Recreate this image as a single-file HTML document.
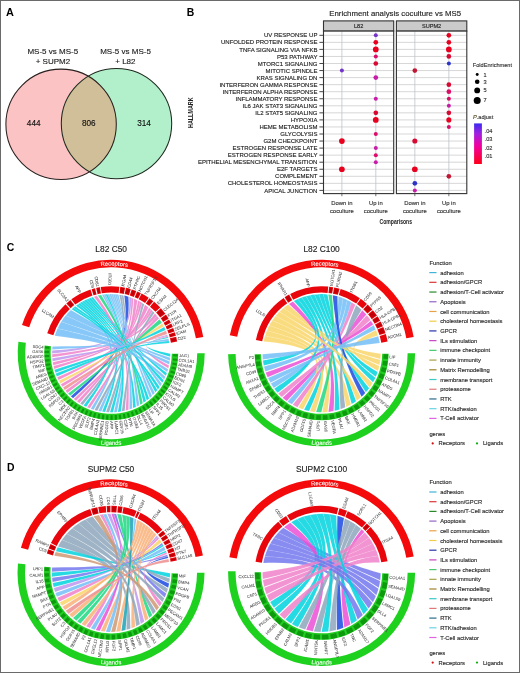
<!DOCTYPE html>
<html><head><meta charset="utf-8"><style>
html,body{margin:0;padding:0;background:#fff;}
#fig{position:relative;width:520px;height:673px;overflow:hidden;background:#fff;}
svg{position:absolute;left:0;top:0;font-family:"Liberation Sans", sans-serif;will-change:transform;}
#bd{position:absolute;left:0;top:0;width:520px;height:673px;box-sizing:border-box;border:1.3px solid #6a6a6a;pointer-events:none;}
</style></head><body><div id="fig">
<svg width="520" height="673" viewBox="0 0 520 673">
<text x="6.0" y="15.9" font-size="10.9" font-weight="bold" fill="#000">A</text>
<circle cx="61.1" cy="124.3" r="55.2" fill="#fbc3c3" />
<circle cx="116.5" cy="123.6" r="55.2" fill="#b2f0cb" />
<clipPath id="clipL"><circle cx="61.1" cy="124.3" r="55.2"/></clipPath>
<circle cx="116.5" cy="123.6" r="55.2" fill="#d1bf99" clip-path="url(#clipL)"/>
<circle cx="61.1" cy="124.3" r="55.2" fill="none" stroke="#2a2020" stroke-width="1.05"/>
<circle cx="116.5" cy="123.6" r="55.2" fill="none" stroke="#202a20" stroke-width="1.05"/>
<text x="52.8" y="54.2" font-size="8.0" text-anchor="middle" fill="#222" stroke="#222" stroke-width="0.14">MS-5 vs MS-5</text>
<text x="52.9" y="63.9" font-size="8.0" text-anchor="middle" fill="#222" stroke="#222" stroke-width="0.14">+ SUPM2</text>
<text x="125.5" y="54.2" font-size="8.0" text-anchor="middle" fill="#222" stroke="#222" stroke-width="0.14">MS-5 vs MS-5</text>
<text x="125.4" y="63.9" font-size="8.0" text-anchor="middle" fill="#222" stroke="#222" stroke-width="0.14">+ L82</text>
<text x="33.7" y="126.1" font-size="8.2" text-anchor="middle" fill="#111" stroke="#111" stroke-width="0.14">444</text>
<text x="88.8" y="126.1" font-size="8.2" text-anchor="middle" fill="#111" stroke="#111" stroke-width="0.14">806</text>
<text x="144.1" y="126.1" font-size="8.2" text-anchor="middle" fill="#111" stroke="#111" stroke-width="0.14">314</text>
<text x="186.7" y="15.6" font-size="10.4" font-weight="bold" fill="#000">B</text>
<text x="395.2" y="15.6" font-size="7.8" text-anchor="middle" fill="#222" stroke="#222" stroke-width="0.14">Enrichment analysis coculture vs MS5</text>
<rect x="323.5" y="20.9" width="70.19999999999999" height="10.2" fill="#cacaca" stroke="#333" stroke-width="1.1"/>
<text x="358.6" y="28.0" font-size="5.6" text-anchor="middle" fill="#222" stroke="#222" stroke-width="0.14">L82</text>
<rect x="323.5" y="31.1" width="70.19999999999999" height="162.5" fill="#fff"/>
<line x1="323.5" y1="35.30" x2="393.7" y2="35.30" stroke="#cdcdcd" stroke-width="0.8"/>
<line x1="323.5" y1="42.35" x2="393.7" y2="42.35" stroke="#cdcdcd" stroke-width="0.8"/>
<line x1="323.5" y1="49.40" x2="393.7" y2="49.40" stroke="#cdcdcd" stroke-width="0.8"/>
<line x1="323.5" y1="56.45" x2="393.7" y2="56.45" stroke="#cdcdcd" stroke-width="0.8"/>
<line x1="323.5" y1="63.50" x2="393.7" y2="63.50" stroke="#cdcdcd" stroke-width="0.8"/>
<line x1="323.5" y1="70.55" x2="393.7" y2="70.55" stroke="#cdcdcd" stroke-width="0.8"/>
<line x1="323.5" y1="77.60" x2="393.7" y2="77.60" stroke="#cdcdcd" stroke-width="0.8"/>
<line x1="323.5" y1="84.65" x2="393.7" y2="84.65" stroke="#cdcdcd" stroke-width="0.8"/>
<line x1="323.5" y1="91.70" x2="393.7" y2="91.70" stroke="#cdcdcd" stroke-width="0.8"/>
<line x1="323.5" y1="98.75" x2="393.7" y2="98.75" stroke="#cdcdcd" stroke-width="0.8"/>
<line x1="323.5" y1="105.80" x2="393.7" y2="105.80" stroke="#cdcdcd" stroke-width="0.8"/>
<line x1="323.5" y1="112.85" x2="393.7" y2="112.85" stroke="#cdcdcd" stroke-width="0.8"/>
<line x1="323.5" y1="119.90" x2="393.7" y2="119.90" stroke="#cdcdcd" stroke-width="0.8"/>
<line x1="323.5" y1="126.95" x2="393.7" y2="126.95" stroke="#cdcdcd" stroke-width="0.8"/>
<line x1="323.5" y1="134.00" x2="393.7" y2="134.00" stroke="#cdcdcd" stroke-width="0.8"/>
<line x1="323.5" y1="141.05" x2="393.7" y2="141.05" stroke="#cdcdcd" stroke-width="0.8"/>
<line x1="323.5" y1="148.10" x2="393.7" y2="148.10" stroke="#cdcdcd" stroke-width="0.8"/>
<line x1="323.5" y1="155.15" x2="393.7" y2="155.15" stroke="#cdcdcd" stroke-width="0.8"/>
<line x1="323.5" y1="162.20" x2="393.7" y2="162.20" stroke="#cdcdcd" stroke-width="0.8"/>
<line x1="323.5" y1="169.25" x2="393.7" y2="169.25" stroke="#cdcdcd" stroke-width="0.8"/>
<line x1="323.5" y1="176.30" x2="393.7" y2="176.30" stroke="#cdcdcd" stroke-width="0.8"/>
<line x1="323.5" y1="183.35" x2="393.7" y2="183.35" stroke="#cdcdcd" stroke-width="0.8"/>
<line x1="323.5" y1="190.40" x2="393.7" y2="190.40" stroke="#cdcdcd" stroke-width="0.8"/>
<line x1="341.89" y1="31.1" x2="341.89" y2="193.6" stroke="#bfc3c8" stroke-width="0.8"/>
<line x1="375.80" y1="31.1" x2="375.80" y2="193.6" stroke="#bfc3c8" stroke-width="0.8"/>
<rect x="396.4" y="20.9" width="70.40000000000003" height="10.2" fill="#cacaca" stroke="#333" stroke-width="1.1"/>
<text x="431.6" y="28.0" font-size="5.6" text-anchor="middle" fill="#222" stroke="#222" stroke-width="0.14">SUPM2</text>
<rect x="396.4" y="31.1" width="70.40000000000003" height="162.5" fill="#fff"/>
<line x1="396.4" y1="35.30" x2="466.8" y2="35.30" stroke="#cdcdcd" stroke-width="0.8"/>
<line x1="396.4" y1="42.35" x2="466.8" y2="42.35" stroke="#cdcdcd" stroke-width="0.8"/>
<line x1="396.4" y1="49.40" x2="466.8" y2="49.40" stroke="#cdcdcd" stroke-width="0.8"/>
<line x1="396.4" y1="56.45" x2="466.8" y2="56.45" stroke="#cdcdcd" stroke-width="0.8"/>
<line x1="396.4" y1="63.50" x2="466.8" y2="63.50" stroke="#cdcdcd" stroke-width="0.8"/>
<line x1="396.4" y1="70.55" x2="466.8" y2="70.55" stroke="#cdcdcd" stroke-width="0.8"/>
<line x1="396.4" y1="77.60" x2="466.8" y2="77.60" stroke="#cdcdcd" stroke-width="0.8"/>
<line x1="396.4" y1="84.65" x2="466.8" y2="84.65" stroke="#cdcdcd" stroke-width="0.8"/>
<line x1="396.4" y1="91.70" x2="466.8" y2="91.70" stroke="#cdcdcd" stroke-width="0.8"/>
<line x1="396.4" y1="98.75" x2="466.8" y2="98.75" stroke="#cdcdcd" stroke-width="0.8"/>
<line x1="396.4" y1="105.80" x2="466.8" y2="105.80" stroke="#cdcdcd" stroke-width="0.8"/>
<line x1="396.4" y1="112.85" x2="466.8" y2="112.85" stroke="#cdcdcd" stroke-width="0.8"/>
<line x1="396.4" y1="119.90" x2="466.8" y2="119.90" stroke="#cdcdcd" stroke-width="0.8"/>
<line x1="396.4" y1="126.95" x2="466.8" y2="126.95" stroke="#cdcdcd" stroke-width="0.8"/>
<line x1="396.4" y1="134.00" x2="466.8" y2="134.00" stroke="#cdcdcd" stroke-width="0.8"/>
<line x1="396.4" y1="141.05" x2="466.8" y2="141.05" stroke="#cdcdcd" stroke-width="0.8"/>
<line x1="396.4" y1="148.10" x2="466.8" y2="148.10" stroke="#cdcdcd" stroke-width="0.8"/>
<line x1="396.4" y1="155.15" x2="466.8" y2="155.15" stroke="#cdcdcd" stroke-width="0.8"/>
<line x1="396.4" y1="162.20" x2="466.8" y2="162.20" stroke="#cdcdcd" stroke-width="0.8"/>
<line x1="396.4" y1="169.25" x2="466.8" y2="169.25" stroke="#cdcdcd" stroke-width="0.8"/>
<line x1="396.4" y1="176.30" x2="466.8" y2="176.30" stroke="#cdcdcd" stroke-width="0.8"/>
<line x1="396.4" y1="183.35" x2="466.8" y2="183.35" stroke="#cdcdcd" stroke-width="0.8"/>
<line x1="396.4" y1="190.40" x2="466.8" y2="190.40" stroke="#cdcdcd" stroke-width="0.8"/>
<line x1="414.84" y1="31.1" x2="414.84" y2="193.6" stroke="#bfc3c8" stroke-width="0.8"/>
<line x1="448.85" y1="31.1" x2="448.85" y2="193.6" stroke="#bfc3c8" stroke-width="0.8"/>
<circle cx="375.80" cy="35.30" r="2.0" fill="#7434c8"/>
<circle cx="448.85" cy="35.30" r="2.35" fill="#e8001e"/>
<circle cx="375.80" cy="42.35" r="2.35" fill="#e8001e"/>
<circle cx="448.85" cy="42.35" r="2.35" fill="#e8001e"/>
<circle cx="375.80" cy="49.40" r="2.85" fill="#e8001e"/>
<circle cx="448.85" cy="49.40" r="2.85" fill="#e8001e"/>
<circle cx="375.80" cy="56.45" r="2.0" fill="#dc0c68"/>
<circle cx="448.85" cy="56.45" r="2.35" fill="#d80a34"/>
<circle cx="375.80" cy="63.50" r="2.35" fill="#d80a34"/>
<circle cx="448.85" cy="63.50" r="2.0" fill="#2c34c8"/>
<circle cx="341.89" cy="70.55" r="2.0" fill="#7434c8"/>
<circle cx="414.84" cy="70.55" r="2.35" fill="#c01834"/>
<circle cx="375.80" cy="77.60" r="2.35" fill="#c81ca8"/>
<circle cx="448.85" cy="84.65" r="2.35" fill="#d80a34"/>
<circle cx="448.85" cy="91.70" r="2.35" fill="#dc0c68"/>
<circle cx="375.80" cy="98.75" r="2.0" fill="#c81ca8"/>
<circle cx="448.85" cy="98.75" r="2.0" fill="#dc0c68"/>
<circle cx="448.85" cy="105.80" r="2.0" fill="#c81ca8"/>
<circle cx="375.80" cy="112.85" r="2.35" fill="#d80a34"/>
<circle cx="448.85" cy="112.85" r="2.35" fill="#d80a34"/>
<circle cx="375.80" cy="119.90" r="2.85" fill="#e8001e"/>
<circle cx="448.85" cy="119.90" r="2.5500000000000003" fill="#e8001e"/>
<circle cx="448.85" cy="126.95" r="2.0" fill="#dc0c68"/>
<circle cx="375.80" cy="134.00" r="2.0" fill="#dc0c68"/>
<circle cx="341.89" cy="141.05" r="2.85" fill="#e8001e"/>
<circle cx="414.84" cy="141.05" r="2.5500000000000003" fill="#d80a34"/>
<circle cx="375.80" cy="148.10" r="2.0" fill="#c81ca8"/>
<circle cx="375.80" cy="155.15" r="2.0" fill="#dc0c68"/>
<circle cx="375.80" cy="162.20" r="2.0" fill="#c81ca8"/>
<circle cx="341.89" cy="169.25" r="2.85" fill="#e8001e"/>
<circle cx="414.84" cy="169.25" r="2.85" fill="#e8001e"/>
<circle cx="448.85" cy="176.30" r="2.35" fill="#c01834"/>
<circle cx="414.84" cy="183.35" r="2.35" fill="#2c34c8"/>
<circle cx="414.84" cy="190.40" r="2.0" fill="#c81ca8"/>
<rect x="323.5" y="31.1" width="70.19999999999999" height="162.5" fill="none" stroke="#333" stroke-width="1.1"/>
<line x1="341.89" y1="193.6" x2="341.89" y2="196.2" stroke="#333" stroke-width="0.7"/>
<text x="341.89" y="205.4" font-size="5.9" text-anchor="middle" fill="#333" stroke="#333" stroke-width="0.14">Down in</text>
<text x="341.89" y="212.8" font-size="5.9" text-anchor="middle" fill="#333" stroke="#333" stroke-width="0.14">coculture</text>
<line x1="375.80" y1="193.6" x2="375.80" y2="196.2" stroke="#333" stroke-width="0.7"/>
<text x="375.80" y="205.4" font-size="5.9" text-anchor="middle" fill="#333" stroke="#333" stroke-width="0.14">Up in</text>
<text x="375.80" y="212.8" font-size="5.9" text-anchor="middle" fill="#333" stroke="#333" stroke-width="0.14">coculture</text>
<rect x="396.4" y="31.1" width="70.40000000000003" height="162.5" fill="none" stroke="#333" stroke-width="1.1"/>
<line x1="414.84" y1="193.6" x2="414.84" y2="196.2" stroke="#333" stroke-width="0.7"/>
<text x="414.84" y="205.4" font-size="5.9" text-anchor="middle" fill="#333" stroke="#333" stroke-width="0.14">Down in</text>
<text x="414.84" y="212.8" font-size="5.9" text-anchor="middle" fill="#333" stroke="#333" stroke-width="0.14">coculture</text>
<line x1="448.85" y1="193.6" x2="448.85" y2="196.2" stroke="#333" stroke-width="0.7"/>
<text x="448.85" y="205.4" font-size="5.9" text-anchor="middle" fill="#333" stroke="#333" stroke-width="0.14">Up in</text>
<text x="448.85" y="212.8" font-size="5.9" text-anchor="middle" fill="#333" stroke="#333" stroke-width="0.14">coculture</text>
<line x1="319.4" y1="35.30" x2="323.5" y2="35.30" stroke="#333" stroke-width="0.9"/>
<text x="317.4" y="37.40" font-size="6.0" text-anchor="end" fill="#222" stroke="#222" stroke-width="0.14">UV RESPONSE UP</text>
<line x1="319.4" y1="42.35" x2="323.5" y2="42.35" stroke="#333" stroke-width="0.9"/>
<text x="317.4" y="44.45" font-size="6.0" text-anchor="end" fill="#222" stroke="#222" stroke-width="0.14">UNFOLDED PROTEIN RESPONSE</text>
<line x1="319.4" y1="49.40" x2="323.5" y2="49.40" stroke="#333" stroke-width="0.9"/>
<text x="317.4" y="51.50" font-size="6.0" text-anchor="end" fill="#222" stroke="#222" stroke-width="0.14">TNFA SIGNALING VIA NFKB</text>
<line x1="319.4" y1="56.45" x2="323.5" y2="56.45" stroke="#333" stroke-width="0.9"/>
<text x="317.4" y="58.55" font-size="6.0" text-anchor="end" fill="#222" stroke="#222" stroke-width="0.14">P53 PATHWAY</text>
<line x1="319.4" y1="63.50" x2="323.5" y2="63.50" stroke="#333" stroke-width="0.9"/>
<text x="317.4" y="65.60" font-size="6.0" text-anchor="end" fill="#222" stroke="#222" stroke-width="0.14">MTORC1 SIGNALING</text>
<line x1="319.4" y1="70.55" x2="323.5" y2="70.55" stroke="#333" stroke-width="0.9"/>
<text x="317.4" y="72.65" font-size="6.0" text-anchor="end" fill="#222" stroke="#222" stroke-width="0.14">MITOTIC SPINDLE</text>
<line x1="319.4" y1="77.60" x2="323.5" y2="77.60" stroke="#333" stroke-width="0.9"/>
<text x="317.4" y="79.70" font-size="6.0" text-anchor="end" fill="#222" stroke="#222" stroke-width="0.14">KRAS SIGNALING DN</text>
<line x1="319.4" y1="84.65" x2="323.5" y2="84.65" stroke="#333" stroke-width="0.9"/>
<text x="317.4" y="86.75" font-size="6.0" text-anchor="end" fill="#222" stroke="#222" stroke-width="0.14">INTERFERON GAMMA RESPONSE</text>
<line x1="319.4" y1="91.70" x2="323.5" y2="91.70" stroke="#333" stroke-width="0.9"/>
<text x="317.4" y="93.80" font-size="6.0" text-anchor="end" fill="#222" stroke="#222" stroke-width="0.14">INTERFERON ALPHA RESPONSE</text>
<line x1="319.4" y1="98.75" x2="323.5" y2="98.75" stroke="#333" stroke-width="0.9"/>
<text x="317.4" y="100.85" font-size="6.0" text-anchor="end" fill="#222" stroke="#222" stroke-width="0.14">INFLAMMATORY RESPONSE</text>
<line x1="319.4" y1="105.80" x2="323.5" y2="105.80" stroke="#333" stroke-width="0.9"/>
<text x="317.4" y="107.90" font-size="6.0" text-anchor="end" fill="#222" stroke="#222" stroke-width="0.14">IL6 JAK STAT3 SIGNALING</text>
<line x1="319.4" y1="112.85" x2="323.5" y2="112.85" stroke="#333" stroke-width="0.9"/>
<text x="317.4" y="114.95" font-size="6.0" text-anchor="end" fill="#222" stroke="#222" stroke-width="0.14">IL2 STAT5 SIGNALING</text>
<line x1="319.4" y1="119.90" x2="323.5" y2="119.90" stroke="#333" stroke-width="0.9"/>
<text x="317.4" y="122.00" font-size="6.0" text-anchor="end" fill="#222" stroke="#222" stroke-width="0.14">HYPOXIA</text>
<line x1="319.4" y1="126.95" x2="323.5" y2="126.95" stroke="#333" stroke-width="0.9"/>
<text x="317.4" y="129.05" font-size="6.0" text-anchor="end" fill="#222" stroke="#222" stroke-width="0.14">HEME METABOLISM</text>
<line x1="319.4" y1="134.00" x2="323.5" y2="134.00" stroke="#333" stroke-width="0.9"/>
<text x="317.4" y="136.10" font-size="6.0" text-anchor="end" fill="#222" stroke="#222" stroke-width="0.14">GLYCOLYSIS</text>
<line x1="319.4" y1="141.05" x2="323.5" y2="141.05" stroke="#333" stroke-width="0.9"/>
<text x="317.4" y="143.15" font-size="6.0" text-anchor="end" fill="#222" stroke="#222" stroke-width="0.14">G2M CHECKPOINT</text>
<line x1="319.4" y1="148.10" x2="323.5" y2="148.10" stroke="#333" stroke-width="0.9"/>
<text x="317.4" y="150.20" font-size="6.0" text-anchor="end" fill="#222" stroke="#222" stroke-width="0.14">ESTROGEN RESPONSE LATE</text>
<line x1="319.4" y1="155.15" x2="323.5" y2="155.15" stroke="#333" stroke-width="0.9"/>
<text x="317.4" y="157.25" font-size="6.0" text-anchor="end" fill="#222" stroke="#222" stroke-width="0.14">ESTROGEN RESPONSE EARLY</text>
<line x1="319.4" y1="162.20" x2="323.5" y2="162.20" stroke="#333" stroke-width="0.9"/>
<text x="317.4" y="164.30" font-size="6.0" text-anchor="end" fill="#222" stroke="#222" stroke-width="0.14">EPITHELIAL MESENCHYMAL TRANSITION</text>
<line x1="319.4" y1="169.25" x2="323.5" y2="169.25" stroke="#333" stroke-width="0.9"/>
<text x="317.4" y="171.35" font-size="6.0" text-anchor="end" fill="#222" stroke="#222" stroke-width="0.14">E2F TARGETS</text>
<line x1="319.4" y1="176.30" x2="323.5" y2="176.30" stroke="#333" stroke-width="0.9"/>
<text x="317.4" y="178.40" font-size="6.0" text-anchor="end" fill="#222" stroke="#222" stroke-width="0.14">COMPLEMENT</text>
<line x1="319.4" y1="183.35" x2="323.5" y2="183.35" stroke="#333" stroke-width="0.9"/>
<text x="317.4" y="185.45" font-size="6.0" text-anchor="end" fill="#222" stroke="#222" stroke-width="0.14">CHOLESTEROL HOMEOSTASIS</text>
<line x1="319.4" y1="190.40" x2="323.5" y2="190.40" stroke="#333" stroke-width="0.9"/>
<text x="317.4" y="192.50" font-size="6.0" text-anchor="end" fill="#222" stroke="#222" stroke-width="0.14">APICAL JUNCTION</text>
<text transform="translate(395.8 224.3) scale(0.707 1)" font-size="7.2" font-weight="bold" text-anchor="middle" fill="#222">Comparisons</text>
<text transform="translate(193.3 112.7) rotate(-90) scale(0.75 1)" font-size="7.2" font-weight="bold" text-anchor="middle" fill="#222">HALLMARK</text>
<text x="472.8" y="66.6" font-size="5.6" fill="#333" stroke="#333" stroke-width="0.14">FoldEnrichment</text>
<circle cx="477.2" cy="74.5" r="1.45" fill="#000"/>
<text x="483.6" y="76.5" font-size="5.6" fill="#333" stroke="#333" stroke-width="0.14">1</text>
<circle cx="477.2" cy="81.8" r="2.3" fill="#000"/>
<text x="483.6" y="83.8" font-size="5.6" fill="#333" stroke="#333" stroke-width="0.14">3</text>
<circle cx="477.2" cy="90.4" r="2.95" fill="#000"/>
<text x="483.6" y="92.4" font-size="5.6" fill="#333" stroke="#333" stroke-width="0.14">5</text>
<circle cx="477.2" cy="100.4" r="3.5" fill="#000"/>
<text x="483.6" y="102.4" font-size="5.6" fill="#333" stroke="#333" stroke-width="0.14">7</text>
<text x="473" y="119" font-size="5.6" fill="#333" stroke="#333" stroke-width="0.14"><tspan font-style="italic" fill="#6b5a1e">P</tspan>.adjust</text>
<defs><linearGradient id="pg" x1="0" y1="0" x2="0" y2="1"><stop offset="0" stop-color="#3b2cf0"/><stop offset="0.25" stop-color="#a020e0"/><stop offset="0.55" stop-color="#f000a0"/><stop offset="1" stop-color="#ff0018"/></linearGradient></defs>
<rect x="474.1" y="123.4" width="7.8" height="40.6" fill="url(#pg)"/>
<text x="484.6" y="133.0" font-size="5.6" fill="#333" stroke="#333" stroke-width="0.14">.04</text>
<text x="484.6" y="141.2" font-size="5.6" fill="#333" stroke="#333" stroke-width="0.14">.03</text>
<text x="484.6" y="149.6" font-size="5.6" fill="#333" stroke="#333" stroke-width="0.14">.02</text>
<text x="484.6" y="157.9" font-size="5.6" fill="#333" stroke="#333" stroke-width="0.14">.01</text>
<text x="6.7" y="250.8" font-size="10.4" font-weight="bold" fill="#000">C</text>
<text x="6.9" y="471.1" font-size="10.4" font-weight="bold" fill="#000">D</text>
<text x="111.2" y="252.3" font-size="8.4" text-anchor="middle" fill="#222" stroke="#222" stroke-width="0.14">L82 C50</text>
<path d="M22.03,325.08 A93.5,93.5 0 0 1 203.28,336.96 L195.89,338.27 A86.0,86.0 0 0 0 29.18,327.34 Z" fill="#f40a0a"/>
<path d="M204.70,353.20 A93.5,93.5 0 1 1 18.40,341.81 L25.84,342.72 A86.0,86.0 0 1 0 197.20,353.20 Z" fill="#1fd11f"/>
<path id="c1r" d="M57.21,284.09 A87.7,87.7 0 0 1 169.88,288.03" fill="none"/>
<text font-size="5.9" fill="#fff" stroke="#fff" stroke-width="0.1"><textPath href="#c1r" startOffset="50%" text-anchor="middle">Receptors</textPath></text>
<path id="c1g" d="M52.19,423.52 A91.8,91.8 0 0 0 170.21,423.52" fill="none"/>
<text font-size="5.9" fill="#fff" stroke="#fff" stroke-width="0.1"><textPath href="#c1g" startOffset="50%" text-anchor="middle">Ligands</textPath></text>
<path d="M157.06,315.93 A59.1,59.1 0 0 1 159.01,318.46 C136.76,339.85 120.19,356.32 76.15,400.79 A59.1,59.1 0 0 1 73.78,398.94 C119.72,355.95 136.37,339.35 157.06,315.93 Z" fill="#f081ca" fill-opacity="0.85" stroke="#fff" stroke-opacity="0.25" stroke-width="0.3"/>
<path d="M107.42,294.22 A59.1,59.1 0 0 1 109.25,294.13 C126.81,334.99 128.35,358.56 116.95,412.02 A59.1,59.1 0 0 1 113.95,412.24 C127.75,358.61 126.44,335.00 107.42,294.22 Z" fill="#73bef7" fill-opacity="0.85" stroke="#fff" stroke-opacity="0.25" stroke-width="0.3"/>
<path d="M124.29,295.57 A59.1,59.1 0 0 1 128.48,296.68 C130.66,335.50 119.57,355.83 73.06,398.35 A59.1,59.1 0 0 1 70.82,396.35 C119.12,355.43 129.82,335.27 124.29,295.57 Z" fill="#1a49e2" fill-opacity="0.85" stroke="#fff" stroke-opacity="0.25" stroke-width="0.3"/>
<path d="M129.27,296.93 A59.1,59.1 0 0 1 131.32,297.63 C131.22,335.69 115.38,346.85 52.10,353.44 A59.1,59.1 0 0 1 52.16,350.43 C115.39,346.25 130.81,335.55 129.27,296.93 Z" fill="#bc96ed" fill-opacity="0.85" stroke="#fff" stroke-opacity="0.25" stroke-width="0.3"/>
<path d="M138.03,300.54 A59.1,59.1 0 0 1 140.15,301.68 C132.99,336.50 117.47,353.50 62.53,386.72 A59.1,59.1 0 0 1 60.89,384.21 C117.14,353.00 132.57,336.27 138.03,300.54 Z" fill="#f081ca" fill-opacity="0.85" stroke="#fff" stroke-opacity="0.25" stroke-width="0.3"/>
<path d="M149.03,307.79 A59.1,59.1 0 0 1 150.90,309.42 C135.14,338.04 115.62,349.19 53.32,365.16 A59.1,59.1 0 0 1 52.79,362.20 C115.52,348.60 134.77,337.72 149.03,307.79 Z" fill="#f081ca" fill-opacity="0.85" stroke="#fff" stroke-opacity="0.25" stroke-width="0.3"/>
<path d="M140.15,301.68 A59.1,59.1 0 0 1 142.23,302.90 C133.41,336.74 118.44,354.74 67.41,392.89 A59.1,59.1 0 0 1 65.45,390.61 C118.05,354.28 132.99,336.50 140.15,301.68 Z" fill="#f081ca" fill-opacity="0.85" stroke="#fff" stroke-opacity="0.25" stroke-width="0.3"/>
<path d="M79.99,303.01 A59.1,59.1 0 0 1 82.04,301.79 C121.37,336.52 129.13,358.46 120.85,411.51 A59.1,59.1 0 0 1 117.88,411.92 C128.54,358.54 120.96,336.76 79.99,303.01 Z" fill="#00d3df" fill-opacity="0.85" stroke="#fff" stroke-opacity="0.25" stroke-width="0.3"/>
<path d="M121.36,294.98 A59.1,59.1 0 0 1 123.49,295.39 C129.66,335.24 126.78,358.61 109.09,412.26 A59.1,59.1 0 0 1 106.09,412.08 C126.18,358.58 129.23,335.16 121.36,294.98 Z" fill="#8da7bc" fill-opacity="0.85" stroke="#fff" stroke-opacity="0.25" stroke-width="0.3"/>
<path d="M82.04,301.79 A59.1,59.1 0 0 1 84.14,300.66 C121.79,336.29 132.13,357.54 135.86,406.91 A59.1,59.1 0 0 1 133.09,408.10 C131.58,357.78 121.37,336.52 82.04,301.79 Z" fill="#00d3df" fill-opacity="0.85" stroke="#fff" stroke-opacity="0.25" stroke-width="0.3"/>
<path d="M103.77,294.57 A59.1,59.1 0 0 1 105.59,294.37 C126.08,335.03 125.21,358.45 101.27,411.46 A59.1,59.1 0 0 1 98.32,410.88 C124.62,358.34 125.71,335.07 103.77,294.57 Z" fill="#73bef7" fill-opacity="0.85" stroke="#fff" stroke-opacity="0.25" stroke-width="0.3"/>
<path d="M167.99,336.84 A59.1,59.1 0 0 1 168.29,337.90 C138.62,343.74 139.02,346.90 170.30,353.72 A59.1,59.1 0 0 1 170.20,356.72 C139.00,347.50 138.56,343.53 167.99,336.84 Z" fill="#00d3df" fill-opacity="0.85" stroke="#fff" stroke-opacity="0.25" stroke-width="0.3"/>
<path d="M84.14,300.66 A59.1,59.1 0 0 1 86.28,299.61 C122.22,336.08 134.16,356.35 146.02,400.95 A59.1,59.1 0 0 1 143.55,402.66 C133.67,356.69 121.79,336.29 84.14,300.66 Z" fill="#00d3df" fill-opacity="0.85" stroke="#fff" stroke-opacity="0.25" stroke-width="0.3"/>
<path d="M116.58,294.35 A59.1,59.1 0 0 1 118.40,294.54 C128.64,335.07 137.33,352.89 161.85,383.65 A59.1,59.1 0 0 1 160.24,386.19 C137.01,353.40 128.28,335.03 116.58,294.35 Z" fill="#73bef7" fill-opacity="0.85" stroke="#fff" stroke-opacity="0.25" stroke-width="0.3"/>
<path d="M77.99,304.31 A59.1,59.1 0 0 1 79.99,303.01 C120.96,336.76 125.99,358.56 105.17,411.99 A59.1,59.1 0 0 1 102.19,411.61 C125.40,358.48 120.56,337.02 77.99,304.31 Z" fill="#00d3df" fill-opacity="0.85" stroke="#fff" stroke-opacity="0.25" stroke-width="0.3"/>
<path d="M111.09,294.10 A59.1,59.1 0 0 1 112.92,294.13 C127.54,334.99 132.83,357.19 139.37,405.15 A59.1,59.1 0 0 1 136.70,406.52 C132.30,357.46 127.18,334.98 111.09,294.10 Z" fill="#73bef7" fill-opacity="0.85" stroke="#fff" stroke-opacity="0.25" stroke-width="0.3"/>
<path d="M65.65,315.55 A59.1,59.1 0 0 1 70.89,309.98 C119.14,338.16 138.99,347.69 170.13,357.65 A59.1,59.1 0 0 1 169.83,360.64 C138.93,348.29 118.09,339.27 65.65,315.55 Z" fill="#73bef7" fill-opacity="0.85" stroke="#fff" stroke-opacity="0.25" stroke-width="0.3"/>
<path d="M131.32,297.63 A59.1,59.1 0 0 1 133.34,298.40 C131.63,335.84 120.84,356.76 79.40,403.01 A59.1,59.1 0 0 1 76.90,401.33 C120.34,356.43 131.22,335.69 131.32,297.63 Z" fill="#f081ca" fill-opacity="0.85" stroke="#fff" stroke-opacity="0.25" stroke-width="0.3"/>
<path d="M150.90,309.42 A59.1,59.1 0 0 1 152.70,311.12 C135.50,338.38 115.81,349.96 54.25,368.98 A59.1,59.1 0 0 1 53.52,366.06 C115.66,349.37 135.14,338.04 150.90,309.42 Z" fill="#f081ca" fill-opacity="0.85" stroke="#fff" stroke-opacity="0.25" stroke-width="0.3"/>
<path d="M101.95,294.83 A59.1,59.1 0 0 1 103.77,294.57 C125.71,335.07 123.69,358.09 93.63,409.63 A59.1,59.1 0 0 1 90.78,408.66 C123.12,357.89 125.35,335.13 101.95,294.83 Z" fill="#73bef7" fill-opacity="0.85" stroke="#fff" stroke-opacity="0.25" stroke-width="0.3"/>
<path d="M90.68,297.78 A59.1,59.1 0 0 1 92.94,296.99 C123.55,335.56 138.34,350.76 166.89,373.00 A59.1,59.1 0 0 1 165.81,375.80 C138.12,351.32 123.10,335.72 90.68,297.78 Z" fill="#00d3df" fill-opacity="0.85" stroke="#fff" stroke-opacity="0.25" stroke-width="0.3"/>
<path d="M167.68,335.79 A59.1,59.1 0 0 1 167.99,336.84 C138.56,343.53 138.76,349.25 169.02,365.43 A59.1,59.1 0 0 1 168.32,368.35 C138.62,349.83 138.50,343.32 167.68,335.79 Z" fill="#f081ca" fill-opacity="0.85" stroke="#fff" stroke-opacity="0.25" stroke-width="0.3"/>
<path d="M119.22,294.65 A59.1,59.1 0 0 1 121.36,294.98 C129.23,335.16 121.52,357.16 82.78,405.02 A59.1,59.1 0 0 1 80.18,403.51 C121.00,356.86 128.80,335.09 119.22,294.65 Z" fill="#8da7bc" fill-opacity="0.85" stroke="#fff" stroke-opacity="0.25" stroke-width="0.3"/>
<path d="M93.92,296.68 A59.1,59.1 0 0 1 96.90,295.86 C124.34,335.33 130.66,358.10 128.51,409.71 A59.1,59.1 0 0 1 125.61,410.52 C130.08,358.26 123.74,335.50 93.92,296.68 Z" fill="#f081ca" fill-opacity="0.85" stroke="#fff" stroke-opacity="0.25" stroke-width="0.3"/>
<path d="M114.75,294.21 A59.1,59.1 0 0 1 116.58,294.35 C128.28,335.03 135.92,354.78 154.80,393.09 A59.1,59.1 0 0 1 152.72,395.26 C135.50,355.21 127.91,335.00 114.75,294.21 Z" fill="#73bef7" fill-opacity="0.85" stroke="#fff" stroke-opacity="0.25" stroke-width="0.3"/>
<path d="M76.05,305.69 A59.1,59.1 0 0 1 77.99,304.31 C120.56,337.02 122.22,357.52 86.29,406.79 A59.1,59.1 0 0 1 83.60,405.46 C121.68,357.25 120.17,337.30 76.05,305.69 Z" fill="#00d3df" fill-opacity="0.85" stroke="#fff" stroke-opacity="0.25" stroke-width="0.3"/>
<path d="M154.98,313.50 A59.1,59.1 0 0 1 157.06,315.93 C136.37,339.35 115.41,347.63 52.25,357.37 A59.1,59.1 0 0 1 52.11,354.36 C115.38,347.03 135.96,338.86 154.98,313.50 Z" fill="#f081ca" fill-opacity="0.85" stroke="#fff" stroke-opacity="0.25" stroke-width="0.3"/>
<path d="M162.28,323.47 A59.1,59.1 0 0 1 163.86,326.37 C137.73,341.43 117.04,352.84 60.41,383.41 A59.1,59.1 0 0 1 58.94,380.79 C116.75,352.32 137.42,340.85 162.28,323.47 Z" fill="#f9d66a" fill-opacity="0.85" stroke="#fff" stroke-opacity="0.25" stroke-width="0.3"/>
<path d="M159.49,319.13 A59.1,59.1 0 0 1 161.86,322.76 C137.33,340.71 118.99,355.30 70.15,395.71 A59.1,59.1 0 0 1 68.04,393.57 C118.57,354.87 136.86,339.99 159.49,319.13 Z" fill="#1ed883" fill-opacity="0.85" stroke="#fff" stroke-opacity="0.25" stroke-width="0.3"/>
<path d="M144.93,304.67 A59.1,59.1 0 0 1 148.39,307.27 C134.64,337.61 116.66,352.15 58.51,379.97 A59.1,59.1 0 0 1 57.22,377.25 C116.40,351.61 133.95,337.09 144.93,304.67 Z" fill="#f081ca" fill-opacity="0.85" stroke="#fff" stroke-opacity="0.25" stroke-width="0.3"/>
<path d="M168.99,340.81 A59.1,59.1 0 0 1 169.40,342.94 C138.84,344.75 116.04,350.71 55.42,372.73 A59.1,59.1 0 0 1 54.50,369.87 C115.86,350.13 138.76,344.32 168.99,340.81 Z" fill="#00d3df" fill-opacity="0.85" stroke="#fff" stroke-opacity="0.25" stroke-width="0.3"/>
<path d="M168.49,338.70 A59.1,59.1 0 0 1 168.99,340.81 C138.76,344.32 115.40,346.06 52.22,349.50 A59.1,59.1 0 0 1 52.48,346.51 C115.46,345.46 138.66,343.90 168.49,338.70 Z" fill="#73bef7" fill-opacity="0.85" stroke="#fff" stroke-opacity="0.25" stroke-width="0.3"/>
<path d="M152.70,311.12 A59.1,59.1 0 0 1 154.42,312.89 C135.84,338.74 124.44,358.29 97.42,410.67 A59.1,59.1 0 0 1 94.51,409.90 C123.86,358.14 135.50,338.38 152.70,311.12 Z" fill="#8da7bc" fill-opacity="0.85" stroke="#fff" stroke-opacity="0.25" stroke-width="0.3"/>
<path d="M109.25,294.13 A59.1,59.1 0 0 1 111.09,294.10 C127.18,334.98 131.41,357.85 132.23,408.43 A59.1,59.1 0 0 1 129.39,409.43 C130.84,358.05 126.81,334.99 109.25,294.13 Z" fill="#73bef7" fill-opacity="0.85" stroke="#fff" stroke-opacity="0.25" stroke-width="0.3"/>
<path d="M61.16,321.75 A59.1,59.1 0 0 1 65.65,315.55 C118.09,339.27 138.90,348.47 169.71,361.56 A59.1,59.1 0 0 1 169.21,364.52 C138.80,349.06 117.19,340.51 61.16,321.75 Z" fill="#73bef7" fill-opacity="0.85" stroke="#fff" stroke-opacity="0.25" stroke-width="0.3"/>
<path d="M112.92,294.13 A59.1,59.1 0 0 1 114.75,294.21 C127.91,335.00 135.37,355.34 152.05,395.91 A59.1,59.1 0 0 1 149.83,397.93 C134.93,355.75 127.54,334.99 112.92,294.13 Z" fill="#73bef7" fill-opacity="0.85" stroke="#fff" stroke-opacity="0.25" stroke-width="0.3"/>
<path d="M105.59,294.37 A59.1,59.1 0 0 1 107.42,294.22 C126.44,335.00 127.57,358.61 113.03,412.27 A59.1,59.1 0 0 1 110.02,412.29 C126.96,358.62 126.08,335.03 105.59,294.37 Z" fill="#00d3df" fill-opacity="0.85" stroke="#fff" stroke-opacity="0.25" stroke-width="0.3"/>
<path d="M86.28,299.61 A59.1,59.1 0 0 1 88.46,298.65 C122.65,335.89 136.43,354.18 157.36,390.11 A59.1,59.1 0 0 1 155.42,392.40 C136.04,354.64 122.22,336.08 86.28,299.61 Z" fill="#00d3df" fill-opacity="0.85" stroke="#fff" stroke-opacity="0.25" stroke-width="0.3"/>
<path d="M134.10,298.72 A59.1,59.1 0 0 1 137.39,300.22 C132.44,336.20 122.94,357.83 89.91,408.33 A59.1,59.1 0 0 1 87.13,407.18 C122.39,357.60 131.78,335.90 134.10,298.72 Z" fill="#f081ca" fill-opacity="0.85" stroke="#fff" stroke-opacity="0.25" stroke-width="0.3"/>
<path d="M57.52,328.48 A59.1,59.1 0 0 1 61.16,321.75 C117.19,340.51 138.58,350.01 168.08,369.25 A59.1,59.1 0 0 1 167.19,372.12 C138.40,350.58 116.46,341.86 57.52,328.48 Z" fill="#73bef7" fill-opacity="0.85" stroke="#fff" stroke-opacity="0.25" stroke-width="0.3"/>
<path d="M97.91,295.61 A59.1,59.1 0 0 1 101.24,294.94 C125.21,335.15 133.51,356.79 142.77,403.16 A59.1,59.1 0 0 1 140.19,404.70 C133.00,357.10 124.54,335.28 97.91,295.61 Z" fill="#1ed883" fill-opacity="0.85" stroke="#fff" stroke-opacity="0.25" stroke-width="0.3"/>
<path d="M73.41,307.76 A59.1,59.1 0 0 1 75.22,306.31 C120.00,337.42 136.90,353.55 159.71,386.95 A59.1,59.1 0 0 1 157.93,389.38 C136.55,354.04 119.64,337.71 73.41,307.76 Z" fill="#00d3df" fill-opacity="0.85" stroke="#fff" stroke-opacity="0.25" stroke-width="0.3"/>
<path d="M71.65,309.28 A59.1,59.1 0 0 1 73.41,307.76 C119.64,337.71 134.78,355.87 149.12,398.53 A59.1,59.1 0 0 1 146.77,400.40 C134.31,356.24 119.29,338.02 71.65,309.28 Z" fill="#00d3df" fill-opacity="0.85" stroke="#fff" stroke-opacity="0.25" stroke-width="0.3"/>
<path d="M142.23,302.90 A59.1,59.1 0 0 1 144.25,304.20 C133.81,337.00 129.90,358.31 124.71,410.74 A59.1,59.1 0 0 1 121.77,411.35 C129.31,358.43 133.41,336.74 142.23,302.90 Z" fill="#8da7bc" fill-opacity="0.85" stroke="#fff" stroke-opacity="0.25" stroke-width="0.3"/>
<path d="M54.77,335.63 A59.1,59.1 0 0 1 57.52,328.48 C116.46,341.86 138.05,351.49 165.45,376.66 A59.1,59.1 0 0 1 164.18,379.39 C137.80,352.04 115.91,343.29 54.77,335.63 Z" fill="#73bef7" fill-opacity="0.85" stroke="#fff" stroke-opacity="0.25" stroke-width="0.3"/>
<path d="M164.23,327.11 A59.1,59.1 0 0 1 165.60,330.11 C138.08,342.18 116.33,351.44 56.84,376.40 A59.1,59.1 0 0 1 55.74,373.61 C116.11,350.88 137.81,341.58 164.23,327.11 Z" fill="#00d3df" fill-opacity="0.85" stroke="#fff" stroke-opacity="0.25" stroke-width="0.3"/>
<path d="M88.46,298.65 A59.1,59.1 0 0 1 90.68,297.78 C123.10,335.72 137.71,352.20 163.76,380.21 A59.1,59.1 0 0 1 162.32,382.85 C137.42,352.73 122.65,335.89 88.46,298.65 Z" fill="#00d3df" fill-opacity="0.85" stroke="#fff" stroke-opacity="0.25" stroke-width="0.3"/>
<path d="M167.34,334.74 A59.1,59.1 0 0 1 167.68,335.79 C138.50,343.32 115.49,348.42 52.65,361.28 A59.1,59.1 0 0 1 52.32,358.29 C115.42,347.82 138.43,343.11 167.34,334.74 Z" fill="#bc96ed" fill-opacity="0.85" stroke="#fff" stroke-opacity="0.25" stroke-width="0.3"/>
<path d="M165.92,330.87 A59.1,59.1 0 0 1 167.08,333.96 C138.38,342.95 117.93,354.14 64.87,389.89 A59.1,59.1 0 0 1 63.06,387.48 C117.57,353.66 138.14,342.33 165.92,330.87 Z" fill="#ed8d8d" fill-opacity="0.85" stroke="#fff" stroke-opacity="0.25" stroke-width="0.3"/>
<path d="M47.23,333.28 A67.0,67.0 0 0 1 65.51,304.20 L69.87,308.88 A60.6,60.6 0 0 0 53.34,335.18 Z" fill="#e8060c"/>
<path d="M66.37,303.41 A67.0,67.0 0 0 1 70.41,300.05 L74.31,305.12 A60.6,60.6 0 0 0 70.65,308.17 Z" fill="#e8060c"/>
<path d="M67.66,303.47 A66.1,66.1 0 0 1 70.23,301.33 L73.08,304.94 A61.5,61.5 0 0 0 70.69,306.93 Z" fill="#c00008"/>
<path d="M71.35,299.34 A67.0,67.0 0 0 1 90.50,289.48 L92.47,295.57 A60.6,60.6 0 0 0 75.15,304.49 Z" fill="#e8060c"/>
<path d="M91.61,289.13 A67.0,67.0 0 0 1 94.99,288.19 L96.54,294.40 A60.6,60.6 0 0 0 93.48,295.25 Z" fill="#e8060c"/>
<path d="M92.76,289.72 A66.1,66.1 0 0 1 94.32,289.29 L95.49,293.74 A61.5,61.5 0 0 0 94.04,294.14 Z" fill="#c00008"/>
<path d="M96.13,287.92 A67.0,67.0 0 0 1 99.91,287.16 L100.99,293.47 A60.6,60.6 0 0 0 97.57,294.15 Z" fill="#e8060c"/>
<path d="M97.23,288.59 A66.1,66.1 0 0 1 99.15,288.21 L99.99,292.73 A61.5,61.5 0 0 0 98.20,293.09 Z" fill="#c00008"/>
<path d="M100.72,287.02 A67.0,67.0 0 0 1 119.37,286.70 L118.59,293.05 A60.6,60.6 0 0 0 101.72,293.35 Z" fill="#e8060c"/>
<path d="M120.29,286.82 A67.0,67.0 0 0 1 125.13,287.66 L123.80,293.92 A60.6,60.6 0 0 0 119.42,293.16 Z" fill="#e8060c"/>
<path d="M121.08,287.84 A66.1,66.1 0 0 1 124.04,288.36 L123.15,292.87 A61.5,61.5 0 0 0 120.40,292.39 Z" fill="#c00008"/>
<path d="M126.04,287.86 A67.0,67.0 0 0 1 130.79,289.13 L128.92,295.25 A60.6,60.6 0 0 0 124.63,294.11 Z" fill="#e8060c"/>
<path d="M126.74,288.95 A66.1,66.1 0 0 1 129.64,289.72 L128.36,294.14 A61.5,61.5 0 0 0 125.66,293.42 Z" fill="#c00008"/>
<path d="M131.68,289.41 A67.0,67.0 0 0 1 136.30,291.08 L133.90,297.01 A60.6,60.6 0 0 0 129.73,295.50 Z" fill="#e8060c"/>
<path d="M132.28,290.55 A66.1,66.1 0 0 1 135.10,291.57 L133.44,295.86 A61.5,61.5 0 0 0 130.82,294.91 Z" fill="#c00008"/>
<path d="M137.16,291.44 A67.0,67.0 0 0 1 140.89,293.14 L138.05,298.87 A60.6,60.6 0 0 0 134.68,297.34 Z" fill="#e8060c"/>
<path d="M137.66,292.63 A66.1,66.1 0 0 1 139.66,293.54 L137.68,297.69 A61.5,61.5 0 0 0 135.82,296.84 Z" fill="#c00008"/>
<path d="M141.62,293.50 A67.0,67.0 0 0 1 148.67,297.65 L145.09,302.96 A60.6,60.6 0 0 0 138.71,299.21 Z" fill="#e8060c"/>
<path d="M149.44,298.18 A67.0,67.0 0 0 1 153.36,301.13 L149.34,306.10 A60.6,60.6 0 0 0 145.79,303.44 Z" fill="#e8060c"/>
<path d="M149.68,299.45 A66.1,66.1 0 0 1 152.08,301.25 L149.23,304.87 A61.5,61.5 0 0 0 147.00,303.19 Z" fill="#c00008"/>
<path d="M154.09,301.73 A67.0,67.0 0 0 1 160.20,307.51 L155.52,311.87 A60.6,60.6 0 0 0 149.99,306.64 Z" fill="#e8060c"/>
<path d="M160.83,308.19 A67.0,67.0 0 0 1 165.40,313.82 L160.23,317.58 A60.6,60.6 0 0 0 156.09,312.49 Z" fill="#e8060c"/>
<path d="M160.78,309.49 A66.1,66.1 0 0 1 164.13,313.60 L160.44,316.36 A61.5,61.5 0 0 0 157.33,312.53 Z" fill="#c00008"/>
<path d="M165.95,314.58 A67.0,67.0 0 0 1 168.63,318.69 L163.14,321.99 A60.6,60.6 0 0 0 160.72,318.27 Z" fill="#e8060c"/>
<path d="M165.74,315.86 A66.1,66.1 0 0 1 167.38,318.37 L163.47,320.79 A61.5,61.5 0 0 0 161.94,318.45 Z" fill="#c00008"/>
<path d="M169.11,319.50 A67.0,67.0 0 0 1 170.90,322.78 L165.19,325.69 A60.6,60.6 0 0 0 163.58,322.72 Z" fill="#e8060c"/>
<path d="M168.79,320.75 A66.1,66.1 0 0 1 169.67,322.37 L165.60,324.52 A61.5,61.5 0 0 0 164.78,323.01 Z" fill="#c00008"/>
<path d="M171.32,323.62 A67.0,67.0 0 0 1 172.87,327.02 L166.98,329.52 A60.6,60.6 0 0 0 165.57,326.44 Z" fill="#e8060c"/>
<path d="M170.91,324.85 A66.1,66.1 0 0 1 171.68,326.53 L167.47,328.38 A61.5,61.5 0 0 0 166.76,326.82 Z" fill="#c00008"/>
<path d="M173.23,327.88 A67.0,67.0 0 0 1 174.55,331.39 L168.50,333.47 A60.6,60.6 0 0 0 167.31,330.30 Z" fill="#e8060c"/>
<path d="M172.74,329.08 A66.1,66.1 0 0 1 173.39,330.81 L169.06,332.37 A61.5,61.5 0 0 0 168.46,330.76 Z" fill="#c00008"/>
<path d="M174.85,332.27 A67.0,67.0 0 0 1 175.92,335.86 L169.74,337.52 A60.6,60.6 0 0 0 168.77,334.27 Z" fill="#e8060c"/>
<path d="M174.28,333.43 A66.1,66.1 0 0 1 174.80,335.20 L170.38,336.45 A61.5,61.5 0 0 0 169.89,334.81 Z" fill="#c00008"/>
<path d="M176.15,336.76 A67.0,67.0 0 0 1 177.18,341.57 L170.88,342.68 A60.6,60.6 0 0 0 169.95,338.33 Z" fill="#e8060c"/>
<path d="M175.50,337.88 A66.1,66.1 0 0 1 176.13,340.81 L171.61,341.68 A61.5,61.5 0 0 0 171.03,338.95 Z" fill="#c00008"/>
<path d="M178.20,353.78 A67.0,67.0 0 1 1 44.63,345.62 L50.99,346.34 A60.6,60.6 0 1 0 171.80,353.73 Z" fill="#22cc22"/>
<path d="M177.79,354.36 A66.6,66.6 0 0 1 177.71,356.59 L173.12,356.35 A62.0,62.0 0 0 0 173.19,354.28 Z" fill="#0e9a0e"/>
<path d="M177.57,358.79 A66.6,66.6 0 0 1 177.34,361.00 L172.77,360.46 A62.0,62.0 0 0 0 172.98,358.40 Z" fill="#0e9a0e"/>
<path d="M177.05,363.19 A66.6,66.6 0 0 1 176.68,365.39 L172.15,364.54 A62.0,62.0 0 0 0 172.50,362.50 Z" fill="#0e9a0e"/>
<path d="M176.24,367.55 A66.6,66.6 0 0 1 175.72,369.71 L171.26,368.57 A62.0,62.0 0 0 0 171.74,366.56 Z" fill="#0e9a0e"/>
<path d="M175.14,371.84 A66.6,66.6 0 0 1 174.48,373.97 L170.11,372.54 A62.0,62.0 0 0 0 170.72,370.56 Z" fill="#0e9a0e"/>
<path d="M173.76,376.06 A66.6,66.6 0 0 1 172.96,378.13 L168.69,376.41 A62.0,62.0 0 0 0 169.43,374.48 Z" fill="#0e9a0e"/>
<path d="M172.10,380.17 A66.6,66.6 0 0 1 171.16,382.19 L167.02,380.18 A62.0,62.0 0 0 0 167.89,378.30 Z" fill="#0e9a0e"/>
<path d="M170.17,384.16 A66.6,66.6 0 0 1 169.10,386.11 L165.10,383.84 A62.0,62.0 0 0 0 166.09,382.02 Z" fill="#0e9a0e"/>
<path d="M167.98,388.01 A66.6,66.6 0 0 1 166.78,389.89 L162.94,387.36 A62.0,62.0 0 0 0 164.06,385.61 Z" fill="#0e9a0e"/>
<path d="M165.54,391.71 A66.6,66.6 0 0 1 164.22,393.51 L160.56,390.72 A62.0,62.0 0 0 0 161.78,389.05 Z" fill="#0e9a0e"/>
<path d="M162.85,395.24 A66.6,66.6 0 0 1 161.42,396.94 L157.95,393.92 A62.0,62.0 0 0 0 159.29,392.34 Z" fill="#0e9a0e"/>
<path d="M159.94,398.58 A66.6,66.6 0 0 1 158.40,400.19 L155.14,396.94 A62.0,62.0 0 0 0 156.58,395.45 Z" fill="#0e9a0e"/>
<path d="M156.82,401.73 A66.6,66.6 0 0 1 155.17,403.22 L152.13,399.77 A62.0,62.0 0 0 0 153.66,398.37 Z" fill="#0e9a0e"/>
<path d="M153.49,404.65 A66.6,66.6 0 0 1 151.74,406.04 L148.94,402.39 A62.0,62.0 0 0 0 150.57,401.10 Z" fill="#0e9a0e"/>
<path d="M149.97,407.35 A66.6,66.6 0 0 1 148.14,408.62 L145.59,404.79 A62.0,62.0 0 0 0 147.29,403.61 Z" fill="#0e9a0e"/>
<path d="M146.28,409.81 A66.6,66.6 0 0 1 144.37,410.95 L142.08,406.96 A62.0,62.0 0 0 0 143.86,405.90 Z" fill="#0e9a0e"/>
<path d="M142.44,412.02 A66.6,66.6 0 0 1 140.46,413.03 L138.43,408.90 A62.0,62.0 0 0 0 140.28,407.96 Z" fill="#0e9a0e"/>
<path d="M138.46,413.97 A66.6,66.6 0 0 1 136.41,414.84 L134.67,410.59 A62.0,62.0 0 0 0 136.57,409.77 Z" fill="#0e9a0e"/>
<path d="M134.35,415.65 A66.6,66.6 0 0 1 132.25,416.38 L130.80,412.02 A62.0,62.0 0 0 0 132.75,411.33 Z" fill="#0e9a0e"/>
<path d="M130.15,417.05 A66.6,66.6 0 0 1 128.00,417.65 L126.84,413.19 A62.0,62.0 0 0 0 128.84,412.64 Z" fill="#0e9a0e"/>
<path d="M125.86,418.17 A66.6,66.6 0 0 1 123.68,418.62 L122.82,414.10 A62.0,62.0 0 0 0 124.85,413.68 Z" fill="#0e9a0e"/>
<path d="M121.50,419.00 A66.6,66.6 0 0 1 119.30,419.31 L118.74,414.74 A62.0,62.0 0 0 0 120.79,414.45 Z" fill="#0e9a0e"/>
<path d="M117.10,419.54 A66.6,66.6 0 0 1 114.88,419.70 L114.63,415.11 A62.0,62.0 0 0 0 116.70,414.96 Z" fill="#0e9a0e"/>
<path d="M112.68,419.78 A66.6,66.6 0 0 1 110.45,419.80 L110.50,415.20 A62.0,62.0 0 0 0 112.58,415.18 Z" fill="#0e9a0e"/>
<path d="M108.25,419.73 A66.6,66.6 0 0 1 106.02,419.60 L106.38,415.01 A62.0,62.0 0 0 0 108.45,415.14 Z" fill="#0e9a0e"/>
<path d="M103.83,419.39 A66.6,66.6 0 0 1 101.62,419.11 L102.28,414.56 A62.0,62.0 0 0 0 104.34,414.82 Z" fill="#0e9a0e"/>
<path d="M99.44,418.75 A66.6,66.6 0 0 1 97.26,418.32 L98.22,413.83 A62.0,62.0 0 0 0 100.25,414.23 Z" fill="#0e9a0e"/>
<path d="M95.10,417.83 A66.6,66.6 0 0 1 92.95,417.25 L94.21,412.83 A62.0,62.0 0 0 0 96.22,413.36 Z" fill="#0e9a0e"/>
<path d="M90.84,416.61 A66.6,66.6 0 0 1 88.73,415.90 L90.29,411.57 A62.0,62.0 0 0 0 92.25,412.23 Z" fill="#0e9a0e"/>
<path d="M86.67,415.12 A66.6,66.6 0 0 1 84.61,414.26 L86.45,410.05 A62.0,62.0 0 0 0 88.36,410.84 Z" fill="#0e9a0e"/>
<path d="M82.60,413.35 A66.6,66.6 0 0 1 80.61,412.36 L82.72,408.27 A62.0,62.0 0 0 0 84.58,409.19 Z" fill="#0e9a0e"/>
<path d="M78.67,411.31 A66.6,66.6 0 0 1 76.74,410.19 L79.12,406.26 A62.0,62.0 0 0 0 80.91,407.30 Z" fill="#0e9a0e"/>
<path d="M74.87,409.02 A66.6,66.6 0 0 1 73.03,407.77 L75.66,404.01 A62.0,62.0 0 0 0 77.38,405.16 Z" fill="#0e9a0e"/>
<path d="M71.24,406.48 A66.6,66.6 0 0 1 69.48,405.11 L72.36,401.53 A62.0,62.0 0 0 0 74.00,402.80 Z" fill="#0e9a0e"/>
<path d="M67.78,403.70 A66.6,66.6 0 0 1 66.12,402.22 L69.23,398.84 A62.0,62.0 0 0 0 70.78,400.21 Z" fill="#0e9a0e"/>
<path d="M64.52,400.70 A66.6,66.6 0 0 1 62.96,399.12 L66.29,395.95 A62.0,62.0 0 0 0 67.74,397.42 Z" fill="#0e9a0e"/>
<path d="M61.46,397.49 A66.6,66.6 0 0 1 60.01,395.81 L63.55,392.86 A62.0,62.0 0 0 0 64.90,394.43 Z" fill="#0e9a0e"/>
<path d="M58.63,394.09 A66.6,66.6 0 0 1 57.29,392.31 L61.01,389.61 A62.0,62.0 0 0 0 62.26,391.26 Z" fill="#0e9a0e"/>
<path d="M56.02,390.50 A66.6,66.6 0 0 1 54.81,388.63 L58.70,386.19 A62.0,62.0 0 0 0 59.83,387.92 Z" fill="#0e9a0e"/>
<path d="M53.66,386.74 A66.6,66.6 0 0 1 52.58,384.80 L56.63,382.62 A62.0,62.0 0 0 0 57.64,384.43 Z" fill="#0e9a0e"/>
<path d="M51.56,382.84 A66.6,66.6 0 0 1 50.60,380.83 L54.79,378.93 A62.0,62.0 0 0 0 55.68,380.80 Z" fill="#0e9a0e"/>
<path d="M49.72,378.81 A66.6,66.6 0 0 1 48.90,376.74 L53.20,375.12 A62.0,62.0 0 0 0 53.97,377.04 Z" fill="#0e9a0e"/>
<path d="M48.15,374.66 A66.6,66.6 0 0 1 47.47,372.54 L51.87,371.21 A62.0,62.0 0 0 0 52.51,373.18 Z" fill="#0e9a0e"/>
<path d="M46.87,370.42 A66.6,66.6 0 0 1 46.33,368.26 L50.81,367.22 A62.0,62.0 0 0 0 51.31,369.23 Z" fill="#0e9a0e"/>
<path d="M45.86,366.10 A66.6,66.6 0 0 1 45.47,363.91 L50.01,363.17 A62.0,62.0 0 0 0 50.37,365.21 Z" fill="#0e9a0e"/>
<path d="M45.15,361.73 A66.6,66.6 0 0 1 44.90,359.52 L49.48,359.08 A62.0,62.0 0 0 0 49.71,361.14 Z" fill="#0e9a0e"/>
<path d="M44.73,357.32 A66.6,66.6 0 0 1 44.63,355.09 L49.23,354.96 A62.0,62.0 0 0 0 49.32,357.03 Z" fill="#0e9a0e"/>
<path d="M44.60,352.88 A66.6,66.6 0 0 1 44.65,350.66 L49.25,350.84 A62.0,62.0 0 0 0 49.20,352.91 Z" fill="#0e9a0e"/>
<path d="M44.77,348.45 A66.6,66.6 0 0 1 44.96,346.24 L49.54,346.72 A62.0,62.0 0 0 0 49.36,348.78 Z" fill="#0e9a0e"/>
<text transform="translate(53.71 317.07) rotate(32.15)" font-size="4.1" text-anchor="end" dy="1.4" fill="#444" stroke="#444" stroke-width="0.04">L1CAM</text>
<text transform="translate(67.78 301.00) rotate(50.25)" font-size="4.1" text-anchor="end" dy="1.4" fill="#444" stroke="#444" stroke-width="0.04">SLC3A2</text>
<text transform="translate(80.11 292.84) rotate(62.75)" font-size="4.1" text-anchor="end" dy="1.4" fill="#444" stroke="#444" stroke-width="0.04">APP</text>
<text transform="translate(93.05 287.77) rotate(74.50)" font-size="4.1" text-anchor="end" dy="1.4" fill="#444" stroke="#444" stroke-width="0.04">CD9</text>
<text transform="translate(97.84 286.63) rotate(78.65)" font-size="4.1" text-anchor="end" dy="1.4" fill="#444" stroke="#444" stroke-width="0.04">CD81</text>
<text transform="translate(110.01 285.31) rotate(89.00)" font-size="4.1" text-anchor="end" dy="1.4" fill="#444" stroke="#444" stroke-width="0.04">ITGB1</text>
<text transform="translate(122.87 286.31) rotate(279.90)" font-size="4.1" dy="1.4" fill="#444" stroke="#444" stroke-width="0.04">ITGA4</text>
<text transform="translate(128.66 287.58) rotate(284.90)" font-size="4.1" dy="1.4" fill="#444" stroke="#444" stroke-width="0.04">CD44</text>
<text transform="translate(134.31 289.35) rotate(289.90)" font-size="4.1" dy="1.4" fill="#444" stroke="#444" stroke-width="0.04">PTPRC</text>
<text transform="translate(139.41 291.44) rotate(294.55)" font-size="4.1" dy="1.4" fill="#444" stroke="#444" stroke-width="0.04">NOTCH1</text>
<text transform="translate(145.66 294.70) rotate(300.50)" font-size="4.1" dy="1.4" fill="#444" stroke="#444" stroke-width="0.04">TNFRSF1A</text>
<text transform="translate(151.97 298.90) rotate(306.90)" font-size="4.1" dy="1.4" fill="#444" stroke="#444" stroke-width="0.04">CXCR4</text>
<text transform="translate(157.85 303.87) rotate(313.40)" font-size="4.1" dy="1.4" fill="#444" stroke="#444" stroke-width="0.04">ESAM</text>
<text transform="translate(163.89 310.38) rotate(320.90)" font-size="4.1" dy="1.4" fill="#444" stroke="#444" stroke-width="0.04">CLEC12A</text>
<text transform="translate(168.08 316.12) rotate(326.90)" font-size="4.1" dy="1.4" fill="#444" stroke="#444" stroke-width="0.04">F11R</text>
<text transform="translate(170.82 320.70) rotate(331.40)" font-size="4.1" dy="1.4" fill="#444" stroke="#444" stroke-width="0.04">ITGA1</text>
<text transform="translate(172.94 324.93) rotate(335.40)" font-size="4.1" dy="1.4" fill="#444" stroke="#444" stroke-width="0.04">LRP2</text>
<text transform="translate(174.76 329.31) rotate(339.40)" font-size="4.1" dy="1.4" fill="#444" stroke="#444" stroke-width="0.04">SELPLG</text>
<text transform="translate(176.27 333.80) rotate(343.40)" font-size="4.1" dy="1.4" fill="#444" stroke="#444" stroke-width="0.04">ICAM</text>
<text transform="translate(177.59 338.97) rotate(347.90)" font-size="4.1" dy="1.4" fill="#444" stroke="#444" stroke-width="0.04">CD2</text>
<text transform="translate(179.06 355.52) rotate(1.96)" font-size="4.1" dy="1.4" fill="#444" stroke="#444" stroke-width="0.04">JAG1</text>
<text transform="translate(178.76 360.03) rotate(5.77)" font-size="4.1" dy="1.4" fill="#444" stroke="#444" stroke-width="0.04">COL1A1</text>
<text transform="translate(178.15 364.51) rotate(9.59)" font-size="4.1" dy="1.4" fill="#444" stroke="#444" stroke-width="0.04">ADAM9</text>
<text transform="translate(177.25 368.94) rotate(13.40)" font-size="4.1" dy="1.4" fill="#444" stroke="#444" stroke-width="0.04">THBS1</text>
<text transform="translate(176.06 373.29) rotate(17.21)" font-size="4.1" dy="1.4" fill="#444" stroke="#444" stroke-width="0.04">CD99</text>
<text transform="translate(174.58 377.56) rotate(21.03)" font-size="4.1" dy="1.4" fill="#444" stroke="#444" stroke-width="0.04">EDN1</text>
<text transform="translate(172.82 381.73) rotate(24.84)" font-size="4.1" dy="1.4" fill="#444" stroke="#444" stroke-width="0.04">IGF2</text>
<text transform="translate(170.78 385.76) rotate(28.66)" font-size="4.1" dy="1.4" fill="#444" stroke="#444" stroke-width="0.04">NAMPT</text>
<text transform="translate(168.48 389.65) rotate(32.47)" font-size="4.1" dy="1.4" fill="#444" stroke="#444" stroke-width="0.04">CALM2</text>
<text transform="translate(165.93 393.38) rotate(36.29)" font-size="4.1" dy="1.4" fill="#444" stroke="#444" stroke-width="0.04">KITLG</text>
<text transform="translate(163.14 396.94) rotate(40.10)" font-size="4.1" dy="1.4" fill="#444" stroke="#444" stroke-width="0.04">CALM3</text>
<text transform="translate(160.11 400.29) rotate(43.91)" font-size="4.1" dy="1.4" fill="#444" stroke="#444" stroke-width="0.04">PROS1</text>
<text transform="translate(156.87 403.44) rotate(47.73)" font-size="4.1" dy="1.4" fill="#444" stroke="#444" stroke-width="0.04">IL15</text>
<text transform="translate(153.43 406.37) rotate(51.54)" font-size="4.1" dy="1.4" fill="#444" stroke="#444" stroke-width="0.04">SPP1</text>
<text transform="translate(149.80 409.06) rotate(55.36)" font-size="4.1" dy="1.4" fill="#444" stroke="#444" stroke-width="0.04">LIF</text>
<text transform="translate(146.00 411.51) rotate(59.17)" font-size="4.1" dy="1.4" fill="#444" stroke="#444" stroke-width="0.04">SEMA3A</text>
<text transform="translate(142.04 413.69) rotate(62.99)" font-size="4.1" dy="1.4" fill="#444" stroke="#444" stroke-width="0.04">MEGF10</text>
<text transform="translate(137.95 415.61) rotate(66.80)" font-size="4.1" dy="1.4" fill="#444" stroke="#444" stroke-width="0.04">DLL4</text>
<text transform="translate(133.74 417.25) rotate(70.61)" font-size="4.1" dy="1.4" fill="#444" stroke="#444" stroke-width="0.04">ITGB1</text>
<text transform="translate(129.43 418.61) rotate(74.43)" font-size="4.1" dy="1.4" fill="#444" stroke="#444" stroke-width="0.04">PTN</text>
<text transform="translate(125.04 419.68) rotate(78.24)" font-size="4.1" dy="1.4" fill="#444" stroke="#444" stroke-width="0.04">CSF1</text>
<text transform="translate(120.58 420.45) rotate(82.06)" font-size="4.1" dy="1.4" fill="#444" stroke="#444" stroke-width="0.04">GDF15</text>
<text transform="translate(116.09 420.92) rotate(85.87)" font-size="4.1" dy="1.4" fill="#444" stroke="#444" stroke-width="0.04">LAMC1</text>
<text transform="translate(111.57 421.10) rotate(89.69)" font-size="4.1" dy="1.4" fill="#444" stroke="#444" stroke-width="0.04">APP</text>
<text transform="translate(107.05 420.97) rotate(-86.50)" font-size="4.1" text-anchor="end" dy="1.4" fill="#444" stroke="#444" stroke-width="0.04">PDGFB</text>
<text transform="translate(102.56 420.55) rotate(-82.69)" font-size="4.1" text-anchor="end" dy="1.4" fill="#444" stroke="#444" stroke-width="0.04">SERPINE1</text>
<text transform="translate(98.09 419.82) rotate(-78.87)" font-size="4.1" text-anchor="end" dy="1.4" fill="#444" stroke="#444" stroke-width="0.04">COL4A1</text>
<text transform="translate(93.69 418.80) rotate(-75.06)" font-size="4.1" text-anchor="end" dy="1.4" fill="#444" stroke="#444" stroke-width="0.04">BMP4</text>
<text transform="translate(89.37 417.49) rotate(-71.24)" font-size="4.1" text-anchor="end" dy="1.4" fill="#444" stroke="#444" stroke-width="0.04">SLIT2</text>
<text transform="translate(85.14 415.90) rotate(-67.43)" font-size="4.1" text-anchor="end" dy="1.4" fill="#444" stroke="#444" stroke-width="0.04">VEGFA</text>
<text transform="translate(81.02 414.03) rotate(-63.61)" font-size="4.1" text-anchor="end" dy="1.4" fill="#444" stroke="#444" stroke-width="0.04">PECAM1</text>
<text transform="translate(77.04 411.88) rotate(-59.80)" font-size="4.1" text-anchor="end" dy="1.4" fill="#444" stroke="#444" stroke-width="0.04">BAX</text>
<text transform="translate(73.22 409.48) rotate(-55.99)" font-size="4.1" text-anchor="end" dy="1.4" fill="#444" stroke="#444" stroke-width="0.04">TGFB1</text>
<text transform="translate(69.56 406.83) rotate(-52.17)" font-size="4.1" text-anchor="end" dy="1.4" fill="#444" stroke="#444" stroke-width="0.04">NECTIN2</text>
<text transform="translate(66.08 403.94) rotate(-48.36)" font-size="4.1" text-anchor="end" dy="1.4" fill="#444" stroke="#444" stroke-width="0.04">MDK</text>
<text transform="translate(62.81 400.83) rotate(-44.54)" font-size="4.1" text-anchor="end" dy="1.4" fill="#444" stroke="#444" stroke-width="0.04">C3</text>
<text transform="translate(59.74 397.50) rotate(-40.73)" font-size="4.1" text-anchor="end" dy="1.4" fill="#444" stroke="#444" stroke-width="0.04">RSPO3</text>
<text transform="translate(56.91 393.98) rotate(-36.91)" font-size="4.1" text-anchor="end" dy="1.4" fill="#444" stroke="#444" stroke-width="0.04">CD47</text>
<text transform="translate(54.32 390.28) rotate(-33.10)" font-size="4.1" text-anchor="end" dy="1.4" fill="#444" stroke="#444" stroke-width="0.04">LGALS9</text>
<text transform="translate(51.98 386.41) rotate(-29.29)" font-size="4.1" text-anchor="end" dy="1.4" fill="#444" stroke="#444" stroke-width="0.04">HMGB1</text>
<text transform="translate(49.90 382.40) rotate(-25.47)" font-size="4.1" text-anchor="end" dy="1.4" fill="#444" stroke="#444" stroke-width="0.04">CXCL12</text>
<text transform="translate(48.09 378.26) rotate(-21.66)" font-size="4.1" text-anchor="end" dy="1.4" fill="#444" stroke="#444" stroke-width="0.04">SEMA4D</text>
<text transform="translate(46.57 374.01) rotate(-17.84)" font-size="4.1" text-anchor="end" dy="1.4" fill="#444" stroke="#444" stroke-width="0.04">AREG</text>
<text transform="translate(45.33 369.66) rotate(-14.03)" font-size="4.1" text-anchor="end" dy="1.4" fill="#444" stroke="#444" stroke-width="0.04">MIF</text>
<text transform="translate(44.38 365.24) rotate(-10.21)" font-size="4.1" text-anchor="end" dy="1.4" fill="#444" stroke="#444" stroke-width="0.04">TIMP1</text>
<text transform="translate(43.72 360.77) rotate(-6.40)" font-size="4.1" text-anchor="end" dy="1.4" fill="#444" stroke="#444" stroke-width="0.04">HSPG2</text>
<text transform="translate(43.37 356.26) rotate(-2.59)" font-size="4.1" text-anchor="end" dy="1.4" fill="#444" stroke="#444" stroke-width="0.04">ADAM10</text>
<text transform="translate(43.32 351.74) rotate(1.23)" font-size="4.1" text-anchor="end" dy="1.4" fill="#444" stroke="#444" stroke-width="0.04">GAS6</text>
<text transform="translate(43.56 347.23) rotate(5.04)" font-size="4.1" text-anchor="end" dy="1.4" fill="#444" stroke="#444" stroke-width="0.04">SDC4</text>
<text x="321.6" y="251.6" font-size="8.4" text-anchor="middle" fill="#222" stroke="#222" stroke-width="0.14">L82 C100</text>
<path d="M229.82,335.36 A93.5,93.5 0 0 1 413.68,336.96 L406.29,338.27 A86.0,86.0 0 0 0 237.18,336.79 Z" fill="#f40a0a"/>
<path d="M415.10,353.20 A93.5,93.5 0 0 1 228.11,354.18 L235.60,354.10 A86.0,86.0 0 0 0 407.60,353.20 Z" fill="#1fd11f"/>
<path id="c2r" d="M267.61,284.09 A87.7,87.7 0 0 1 380.28,288.03" fill="none"/>
<text font-size="5.9" fill="#fff" stroke="#fff" stroke-width="0.1"><textPath href="#c2r" startOffset="50%" text-anchor="middle">Receptors</textPath></text>
<path id="c2g" d="M262.59,423.52 A91.8,91.8 0 0 0 380.61,423.52" fill="none"/>
<text font-size="5.9" fill="#fff" stroke="#fff" stroke-width="0.1"><textPath href="#c2g" startOffset="50%" text-anchor="middle">Ligands</textPath></text>
<path d="M269.39,325.51 A59.1,59.1 0 0 1 272.29,320.62 C324.54,342.68 340.26,359.47 350.88,404.54 A59.1,59.1 0 0 1 346.22,406.93 C339.32,359.95 323.96,343.66 269.39,325.51 Z" fill="#f9d66a" fill-opacity="0.85" stroke="#fff" stroke-opacity="0.25" stroke-width="0.3"/>
<path d="M323.13,294.12 A59.1,59.1 0 0 1 327.47,294.39 C335.57,337.44 345.61,352.94 377.67,371.89 A59.1,59.1 0 0 1 375.79,376.78 C345.24,353.92 334.71,337.38 323.13,294.12 Z" fill="#00d3df" fill-opacity="0.85" stroke="#fff" stroke-opacity="0.25" stroke-width="0.3"/>
<path d="M301.80,297.52 A59.1,59.1 0 0 1 305.94,296.21 C331.27,337.80 331.91,360.75 309.15,410.97 A59.1,59.1 0 0 1 304.08,409.64 C330.90,360.49 330.44,338.06 301.80,297.52 Z" fill="#00d3df" fill-opacity="0.85" stroke="#fff" stroke-opacity="0.25" stroke-width="0.3"/>
<path d="M318.79,294.17 A59.1,59.1 0 0 1 323.13,294.12 C334.71,337.38 345.16,354.09 375.41,377.63 A59.1,59.1 0 0 1 373.04,382.30 C344.69,355.02 333.84,337.39 318.79,294.17 Z" fill="#00d3df" fill-opacity="0.85" stroke="#fff" stroke-opacity="0.25" stroke-width="0.3"/>
<path d="M376.00,330.11 A59.1,59.1 0 0 1 378.00,335.53 C345.68,345.67 345.94,351.75 379.31,365.95 A59.1,59.1 0 0 1 377.95,371.01 C345.67,352.76 345.28,344.58 376.00,330.11 Z" fill="#f9d66a" fill-opacity="0.85" stroke="#fff" stroke-opacity="0.25" stroke-width="0.3"/>
<path d="M283.60,307.94 A59.1,59.1 0 0 1 288.13,304.49 C327.71,339.46 346.22,349.30 380.70,353.72 A59.1,59.1 0 0 1 380.42,358.95 C346.16,350.35 326.80,340.15 283.60,307.94 Z" fill="#f9d66a" fill-opacity="0.85" stroke="#fff" stroke-opacity="0.25" stroke-width="0.3"/>
<path d="M310.17,295.22 A59.1,59.1 0 0 1 314.46,294.53 C332.97,337.47 341.29,358.80 356.07,401.21 A59.1,59.1 0 0 1 351.68,404.07 C340.42,359.37 332.11,337.60 310.17,295.22 Z" fill="#00d3df" fill-opacity="0.85" stroke="#fff" stroke-opacity="0.25" stroke-width="0.3"/>
<path d="M362.21,310.26 A59.1,59.1 0 0 1 366.34,314.58 C343.35,341.48 327.44,358.75 286.80,400.96 A59.1,59.1 0 0 1 282.70,397.69 C326.62,358.10 342.52,340.61 362.21,310.26 Z" fill="#eb50d6" fill-opacity="0.85" stroke="#fff" stroke-opacity="0.25" stroke-width="0.3"/>
<path d="M314.46,294.53 A59.1,59.1 0 0 1 318.79,294.17 C333.84,337.39 343.92,356.21 369.18,388.25 A59.1,59.1 0 0 1 365.89,392.33 C343.26,357.03 332.97,337.47 314.46,294.53 Z" fill="#00d3df" fill-opacity="0.85" stroke="#fff" stroke-opacity="0.25" stroke-width="0.3"/>
<path d="M265.06,336.01 A59.1,59.1 0 0 1 266.97,330.65 C323.47,344.69 333.13,360.95 315.24,411.96 A59.1,59.1 0 0 1 310.06,411.16 C332.09,360.79 323.09,345.76 265.06,336.01 Z" fill="#f9d66a" fill-opacity="0.85" stroke="#fff" stroke-opacity="0.25" stroke-width="0.3"/>
<path d="M272.29,320.62 A59.1,59.1 0 0 1 275.65,316.04 C325.21,341.77 342.26,358.03 360.88,397.35 A59.1,59.1 0 0 1 356.82,400.66 C341.44,358.69 324.54,342.68 272.29,320.62 Z" fill="#f9d66a" fill-opacity="0.85" stroke="#fff" stroke-opacity="0.25" stroke-width="0.3"/>
<path d="M347.23,299.95 A59.1,59.1 0 0 1 351.42,302.17 C340.36,338.99 328.47,359.43 291.96,404.33 A59.1,59.1 0 0 1 287.55,401.51 C327.59,358.86 339.53,338.55 347.23,299.95 Z" fill="#73bef7" fill-opacity="0.85" stroke="#fff" stroke-opacity="0.25" stroke-width="0.3"/>
<path d="M266.97,330.65 A59.1,59.1 0 0 1 269.39,325.51 C323.96,343.66 335.59,360.96 327.55,412.00 A59.1,59.1 0 0 1 322.32,412.30 C334.54,361.02 323.47,344.69 266.97,330.65 Z" fill="#f9d66a" fill-opacity="0.85" stroke="#fff" stroke-opacity="0.25" stroke-width="0.3"/>
<path d="M356.09,305.21 A59.1,59.1 0 0 1 361.60,309.70 C342.40,340.50 339.15,360.02 345.37,407.31 A59.1,59.1 0 0 1 340.49,409.20 C338.18,360.40 341.30,339.60 356.09,305.21 Z" fill="#8da7bc" fill-opacity="0.85" stroke="#fff" stroke-opacity="0.25" stroke-width="0.3"/>
<path d="M288.98,303.92 A59.1,59.1 0 0 1 292.95,301.51 C328.67,338.86 336.81,360.77 333.65,411.06 A59.1,59.1 0 0 1 328.47,411.90 C335.77,360.94 327.88,339.34 288.98,303.92 Z" fill="#eb50d6" fill-opacity="0.85" stroke="#fff" stroke-opacity="0.25" stroke-width="0.3"/>
<path d="M263.67,341.52 A59.1,59.1 0 0 1 265.06,336.01 C323.09,345.76 330.72,360.43 303.20,409.36 A59.1,59.1 0 0 1 298.30,407.51 C329.74,360.06 322.81,346.86 263.67,341.52 Z" fill="#f9d66a" fill-opacity="0.85" stroke="#fff" stroke-opacity="0.25" stroke-width="0.3"/>
<path d="M366.87,315.21 A59.1,59.1 0 0 1 370.48,319.98 C344.18,342.56 326.48,357.98 282.01,397.08 A59.1,59.1 0 0 1 278.28,393.40 C325.74,357.24 343.45,341.60 366.87,315.21 Z" fill="#f081ca" fill-opacity="0.85" stroke="#fff" stroke-opacity="0.25" stroke-width="0.3"/>
<path d="M305.94,296.21 A59.1,59.1 0 0 1 310.17,295.22 C332.11,337.60 338.00,360.46 339.61,409.49 A59.1,59.1 0 0 1 334.55,410.86 C336.99,360.73 331.27,337.80 305.94,296.21 Z" fill="#00d3df" fill-opacity="0.85" stroke="#fff" stroke-opacity="0.25" stroke-width="0.3"/>
<path d="M342.88,298.06 A59.1,59.1 0 0 1 347.23,299.95 C339.53,338.55 324.83,356.14 273.77,387.92 A59.1,59.1 0 0 1 270.89,383.55 C324.26,355.27 338.66,338.17 342.88,298.06 Z" fill="#73bef7" fill-opacity="0.85" stroke="#fff" stroke-opacity="0.25" stroke-width="0.3"/>
<path d="M370.94,320.67 A59.1,59.1 0 0 1 373.29,324.55 C344.74,343.47 323.60,354.01 267.62,377.26 A59.1,59.1 0 0 1 265.70,372.38 C323.22,353.04 344.27,342.69 370.94,320.67 Z" fill="#eb50d6" fill-opacity="0.85" stroke="#fff" stroke-opacity="0.25" stroke-width="0.3"/>
<path d="M351.42,302.17 A59.1,59.1 0 0 1 355.41,304.73 C341.16,339.51 329.57,359.99 297.45,407.14 A59.1,59.1 0 0 1 292.77,404.79 C328.63,359.52 340.36,338.99 351.42,302.17 Z" fill="#f081ca" fill-opacity="0.85" stroke="#fff" stroke-opacity="0.25" stroke-width="0.3"/>
<path d="M328.29,294.48 A59.1,59.1 0 0 1 331.86,295.00 C336.45,337.56 334.36,361.02 321.39,412.30 A59.1,59.1 0 0 1 316.16,412.05 C333.31,360.97 335.74,337.46 328.29,294.48 Z" fill="#1ed883" fill-opacity="0.85" stroke="#fff" stroke-opacity="0.25" stroke-width="0.3"/>
<path d="M338.39,296.53 A59.1,59.1 0 0 1 342.88,298.06 C338.66,338.17 323.16,352.86 265.41,371.50 A59.1,59.1 0 0 1 264.01,366.45 C322.88,351.85 337.76,337.87 338.39,296.53 Z" fill="#73bef7" fill-opacity="0.85" stroke="#fff" stroke-opacity="0.25" stroke-width="0.3"/>
<path d="M332.67,295.15 A59.1,59.1 0 0 1 337.49,296.28 C337.58,337.82 343.13,357.16 365.27,393.02 A59.1,59.1 0 0 1 361.57,396.73 C342.39,357.91 336.61,337.59 332.67,295.15 Z" fill="#1a49e2" fill-opacity="0.85" stroke="#fff" stroke-opacity="0.25" stroke-width="0.3"/>
<path d="M279.43,311.79 A59.1,59.1 0 0 1 283.60,307.94 C326.80,340.15 346.14,350.53 380.32,359.87 A59.1,59.1 0 0 1 379.50,365.04 C345.98,351.57 325.97,340.92 279.43,311.79 Z" fill="#f9d66a" fill-opacity="0.85" stroke="#fff" stroke-opacity="0.25" stroke-width="0.3"/>
<path d="M297.76,299.12 A59.1,59.1 0 0 1 301.80,297.52 C330.44,338.06 325.61,357.10 277.65,392.71 A59.1,59.1 0 0 1 274.33,388.67 C324.95,356.29 329.63,338.38 297.76,299.12 Z" fill="#00d3df" fill-opacity="0.85" stroke="#fff" stroke-opacity="0.25" stroke-width="0.3"/>
<path d="M293.85,301.02 A59.1,59.1 0 0 1 297.76,299.12 C329.63,338.38 322.84,351.67 263.80,365.55 A59.1,59.1 0 0 1 262.94,360.38 C322.67,350.64 328.85,338.76 293.85,301.02 Z" fill="#00d3df" fill-opacity="0.85" stroke="#fff" stroke-opacity="0.25" stroke-width="0.3"/>
<path d="M378.24,336.32 A59.1,59.1 0 0 1 379.80,342.94 C346.04,347.15 322.65,350.45 262.83,359.46 A59.1,59.1 0 0 1 262.51,354.23 C322.58,349.41 345.73,345.82 378.24,336.32 Z" fill="#73bef7" fill-opacity="0.85" stroke="#fff" stroke-opacity="0.25" stroke-width="0.3"/>
<path d="M373.69,325.27 A59.1,59.1 0 0 1 375.72,329.44 C345.22,344.45 324.16,355.11 270.42,382.75 A59.1,59.1 0 0 1 268.00,378.10 C323.68,354.18 344.82,343.61 373.69,325.27 Z" fill="#73bef7" fill-opacity="0.85" stroke="#fff" stroke-opacity="0.25" stroke-width="0.3"/>
<path d="M275.65,316.04 A59.1,59.1 0 0 1 279.43,311.79 C325.97,340.92 344.59,355.18 372.57,383.11 A59.1,59.1 0 0 1 369.73,387.50 C344.03,356.06 325.21,341.77 275.65,316.04 Z" fill="#f9d66a" fill-opacity="0.85" stroke="#fff" stroke-opacity="0.25" stroke-width="0.3"/>
<path d="M255.92,339.96 A67.0,67.0 0 0 1 283.65,297.98 L287.28,303.26 A60.6,60.6 0 0 0 262.20,341.22 Z" fill="#e8060c"/>
<path d="M284.62,297.33 A67.0,67.0 0 0 1 289.12,294.60 L292.22,300.20 A60.6,60.6 0 0 0 288.15,302.67 Z" fill="#e8060c"/>
<path d="M285.89,297.58 A66.1,66.1 0 0 1 288.75,295.84 L291.04,299.83 A61.5,61.5 0 0 0 288.38,301.45 Z" fill="#c00008"/>
<path d="M290.15,294.04 A67.0,67.0 0 0 1 328.25,286.53 L327.62,292.90 A60.6,60.6 0 0 0 293.15,299.69 Z" fill="#e8060c"/>
<path d="M329.18,286.63 A67.0,67.0 0 0 1 333.23,287.22 L332.12,293.52 A60.6,60.6 0 0 0 328.46,292.99 Z" fill="#e8060c"/>
<path d="M330.00,287.64 A66.1,66.1 0 0 1 332.17,287.95 L331.43,292.49 A61.5,61.5 0 0 0 329.41,292.20 Z" fill="#c00008"/>
<path d="M334.15,287.39 A67.0,67.0 0 0 1 339.62,288.67 L337.90,294.83 A60.6,60.6 0 0 0 332.96,293.67 Z" fill="#e8060c"/>
<path d="M334.89,288.45 A66.1,66.1 0 0 1 338.48,289.29 L337.31,293.74 A61.5,61.5 0 0 0 333.97,292.96 Z" fill="#c00008"/>
<path d="M340.63,288.96 A67.0,67.0 0 0 1 359.93,298.25 L356.27,303.50 A60.6,60.6 0 0 0 338.81,295.10 Z" fill="#e8060c"/>
<path d="M360.70,298.79 A67.0,67.0 0 0 1 366.95,303.88 L362.62,308.59 A60.6,60.6 0 0 0 356.96,303.99 Z" fill="#e8060c"/>
<path d="M367.63,304.52 A67.0,67.0 0 0 1 372.32,309.42 L367.47,313.60 A60.6,60.6 0 0 0 363.24,309.17 Z" fill="#e8060c"/>
<path d="M367.68,305.81 A66.1,66.1 0 0 1 371.03,309.31 L367.59,312.37 A61.5,61.5 0 0 0 364.48,309.11 Z" fill="#c00008"/>
<path d="M372.92,310.13 A67.0,67.0 0 0 1 377.01,315.54 L371.72,319.14 A60.6,60.6 0 0 0 368.02,314.25 Z" fill="#e8060c"/>
<path d="M372.82,311.42 A66.1,66.1 0 0 1 375.75,315.29 L371.98,317.93 A61.5,61.5 0 0 0 369.26,314.33 Z" fill="#c00008"/>
<path d="M377.53,316.32 A67.0,67.0 0 0 1 380.20,320.72 L374.60,323.82 A60.6,60.6 0 0 0 372.19,319.84 Z" fill="#e8060c"/>
<path d="M377.29,317.59 A66.1,66.1 0 0 1 378.96,320.35 L374.97,322.64 A61.5,61.5 0 0 0 373.41,320.07 Z" fill="#c00008"/>
<path d="M380.65,321.54 A67.0,67.0 0 0 1 382.95,326.27 L377.09,328.84 A60.6,60.6 0 0 0 375.01,324.56 Z" fill="#e8060c"/>
<path d="M380.28,322.78 A66.1,66.1 0 0 1 381.75,325.79 L377.56,327.70 A61.5,61.5 0 0 0 376.20,324.90 Z" fill="#c00008"/>
<path d="M383.27,327.02 A67.0,67.0 0 0 1 385.53,333.16 L379.43,335.08 A60.6,60.6 0 0 0 377.38,329.52 Z" fill="#e8060c"/>
<path d="M382.80,328.22 A66.1,66.1 0 0 1 384.39,332.55 L380.02,333.99 A61.5,61.5 0 0 0 378.54,329.96 Z" fill="#c00008"/>
<path d="M385.81,334.06 A67.0,67.0 0 0 1 387.58,341.57 L381.28,342.68 A60.6,60.6 0 0 0 379.67,335.89 Z" fill="#e8060c"/>
<path d="M388.60,353.78 A67.0,67.0 0 0 1 254.61,354.37 L261.01,354.26 A60.6,60.6 0 0 0 382.20,353.73 Z" fill="#22cc22"/>
<path d="M388.19,354.36 A66.6,66.6 0 0 1 387.94,359.10 L383.36,358.69 A62.0,62.0 0 0 0 383.59,354.28 Z" fill="#0e9a0e"/>
<path d="M387.71,361.29 A66.6,66.6 0 0 1 386.96,365.98 L382.45,365.09 A62.0,62.0 0 0 0 383.14,360.73 Z" fill="#0e9a0e"/>
<path d="M386.50,368.14 A66.6,66.6 0 0 1 385.28,372.72 L380.88,371.37 A62.0,62.0 0 0 0 382.02,367.10 Z" fill="#0e9a0e"/>
<path d="M384.59,374.82 A66.6,66.6 0 0 1 382.90,379.24 L378.66,377.45 A62.0,62.0 0 0 0 380.24,373.32 Z" fill="#0e9a0e"/>
<path d="M382.00,381.26 A66.6,66.6 0 0 1 379.85,385.49 L375.83,383.26 A62.0,62.0 0 0 0 377.83,379.32 Z" fill="#0e9a0e"/>
<path d="M378.75,387.40 A66.6,66.6 0 0 1 376.17,391.38 L372.40,388.74 A62.0,62.0 0 0 0 374.80,385.04 Z" fill="#0e9a0e"/>
<path d="M374.87,393.17 A66.6,66.6 0 0 1 371.89,396.86 L368.42,393.84 A62.0,62.0 0 0 0 371.19,390.41 Z" fill="#0e9a0e"/>
<path d="M370.42,398.50 A66.6,66.6 0 0 1 367.07,401.86 L363.93,398.50 A62.0,62.0 0 0 0 367.05,395.37 Z" fill="#0e9a0e"/>
<path d="M365.43,403.34 A66.6,66.6 0 0 1 361.76,406.33 L358.98,402.66 A62.0,62.0 0 0 0 362.41,399.88 Z" fill="#0e9a0e"/>
<path d="M359.97,407.64 A66.6,66.6 0 0 1 356.00,410.23 L353.63,406.29 A62.0,62.0 0 0 0 357.32,403.88 Z" fill="#0e9a0e"/>
<path d="M354.09,411.34 A66.6,66.6 0 0 1 349.87,413.50 L347.92,409.34 A62.0,62.0 0 0 0 351.85,407.32 Z" fill="#0e9a0e"/>
<path d="M347.86,414.41 A66.6,66.6 0 0 1 343.44,416.12 L341.93,411.77 A62.0,62.0 0 0 0 346.04,410.18 Z" fill="#0e9a0e"/>
<path d="M341.34,416.81 A66.6,66.6 0 0 1 336.76,418.05 L335.72,413.57 A62.0,62.0 0 0 0 339.98,412.41 Z" fill="#0e9a0e"/>
<path d="M334.60,418.52 A66.6,66.6 0 0 1 329.92,419.28 L329.35,414.71 A62.0,62.0 0 0 0 333.71,414.01 Z" fill="#0e9a0e"/>
<path d="M327.73,419.52 A66.6,66.6 0 0 1 322.99,419.79 L322.90,415.19 A62.0,62.0 0 0 0 327.31,414.94 Z" fill="#0e9a0e"/>
<path d="M320.79,419.80 A66.6,66.6 0 0 1 316.05,419.57 L316.43,414.98 A62.0,62.0 0 0 0 320.84,415.20 Z" fill="#0e9a0e"/>
<path d="M313.85,419.35 A66.6,66.6 0 0 1 309.17,418.63 L310.02,414.11 A62.0,62.0 0 0 0 314.39,414.78 Z" fill="#0e9a0e"/>
<path d="M307.00,418.18 A66.6,66.6 0 0 1 302.42,416.98 L303.74,412.57 A62.0,62.0 0 0 0 308.01,413.69 Z" fill="#0e9a0e"/>
<path d="M300.31,416.31 A66.6,66.6 0 0 1 295.88,414.63 L297.65,410.39 A62.0,62.0 0 0 0 301.78,411.95 Z" fill="#0e9a0e"/>
<path d="M293.85,413.75 A66.6,66.6 0 0 1 289.62,411.62 L291.83,407.58 A62.0,62.0 0 0 0 295.77,409.56 Z" fill="#0e9a0e"/>
<path d="M287.70,410.53 A66.6,66.6 0 0 1 283.71,407.97 L286.32,404.19 A62.0,62.0 0 0 0 290.04,406.57 Z" fill="#0e9a0e"/>
<path d="M281.91,406.68 A66.6,66.6 0 0 1 278.21,403.72 L281.20,400.23 A62.0,62.0 0 0 0 284.65,402.99 Z" fill="#0e9a0e"/>
<path d="M276.55,402.26 A66.6,66.6 0 0 1 273.18,398.93 L276.52,395.77 A62.0,62.0 0 0 0 279.67,398.87 Z" fill="#0e9a0e"/>
<path d="M271.69,397.30 A66.6,66.6 0 0 1 268.68,393.63 L272.33,390.84 A62.0,62.0 0 0 0 275.14,394.25 Z" fill="#0e9a0e"/>
<path d="M267.37,391.86 A66.6,66.6 0 0 1 264.75,387.90 L268.68,385.50 A62.0,62.0 0 0 0 271.11,389.19 Z" fill="#0e9a0e"/>
<path d="M263.63,386.00 A66.6,66.6 0 0 1 261.45,381.79 L265.60,379.81 A62.0,62.0 0 0 0 267.64,383.73 Z" fill="#0e9a0e"/>
<path d="M260.53,379.78 A66.6,66.6 0 0 1 258.80,375.37 L263.13,373.83 A62.0,62.0 0 0 0 264.75,377.94 Z" fill="#0e9a0e"/>
<path d="M258.10,373.27 A66.6,66.6 0 0 1 256.83,368.70 L261.30,367.63 A62.0,62.0 0 0 0 262.48,371.89 Z" fill="#0e9a0e"/>
<path d="M256.35,366.55 A66.6,66.6 0 0 1 255.57,361.87 L260.13,361.27 A62.0,62.0 0 0 0 260.86,365.62 Z" fill="#0e9a0e"/>
<path d="M255.32,359.68 A66.6,66.6 0 0 1 255.02,354.94 L259.62,354.82 A62.0,62.0 0 0 0 259.89,359.23 Z" fill="#0e9a0e"/>
<text transform="translate(264.95 315.77) rotate(33.45)" font-size="4.1" text-anchor="end" dy="1.4" fill="#444" stroke="#444" stroke-width="0.04">LDLR</text>
<text transform="translate(286.38 295.15) rotate(58.75)" font-size="4.1" text-anchor="end" dy="1.4" fill="#444" stroke="#444" stroke-width="0.04">IFNAR1</text>
<text transform="translate(308.47 286.58) rotate(78.85)" font-size="4.1" text-anchor="end" dy="1.4" fill="#444" stroke="#444" stroke-width="0.04">APP</text>
<text transform="translate(331.34 286.00) rotate(278.25)" font-size="4.1" dy="1.4" fill="#444" stroke="#444" stroke-width="0.04">NOTCH1</text>
<text transform="translate(337.11 287.09) rotate(283.20)" font-size="4.1" dy="1.4" fill="#444" stroke="#444" stroke-width="0.04">PLXNA2</text>
<text transform="translate(351.05 292.02) rotate(295.70)" font-size="4.1" dy="1.4" fill="#444" stroke="#444" stroke-width="0.04">ITGB1</text>
<text transform="translate(364.47 300.54) rotate(309.15)" font-size="4.1" dy="1.4" fill="#444" stroke="#444" stroke-width="0.04">CD99</text>
<text transform="translate(370.69 306.29) rotate(316.30)" font-size="4.1" dy="1.4" fill="#444" stroke="#444" stroke-width="0.04">PTPRS</text>
<text transform="translate(375.76 312.24) rotate(322.90)" font-size="4.1" dy="1.4" fill="#444" stroke="#444" stroke-width="0.04">CD2</text>
<text transform="translate(379.68 318.03) rotate(328.80)" font-size="4.1" dy="1.4" fill="#444" stroke="#444" stroke-width="0.04">HLA-DPB1</text>
<text transform="translate(382.65 323.49) rotate(334.05)" font-size="4.1" dy="1.4" fill="#444" stroke="#444" stroke-width="0.04">HLA-DPB1</text>
<text transform="translate(385.32 329.75) rotate(339.80)" font-size="4.1" dy="1.4" fill="#444" stroke="#444" stroke-width="0.04">NECTIN4</text>
<text transform="translate(387.68 337.58) rotate(346.70)" font-size="4.1" dy="1.4" fill="#444" stroke="#444" stroke-width="0.04">ADCM1</text>
<text transform="translate(389.40 356.80) rotate(3.04)" font-size="4.1" dy="1.4" fill="#444" stroke="#444" stroke-width="0.04">LIF</text>
<text transform="translate(388.66 363.85) rotate(9.02)" font-size="4.1" dy="1.4" fill="#444" stroke="#444" stroke-width="0.04">CSF1</text>
<text transform="translate(387.19 370.77) rotate(15.00)" font-size="4.1" dy="1.4" fill="#444" stroke="#444" stroke-width="0.04">PDGFB</text>
<text transform="translate(385.00 377.51) rotate(20.98)" font-size="4.1" dy="1.4" fill="#444" stroke="#444" stroke-width="0.04">COL4A1</text>
<text transform="translate(382.12 383.98) rotate(26.96)" font-size="4.1" dy="1.4" fill="#444" stroke="#444" stroke-width="0.04">AREG</text>
<text transform="translate(378.58 390.12) rotate(32.94)" font-size="4.1" dy="1.4" fill="#444" stroke="#444" stroke-width="0.04">NAMPT</text>
<text transform="translate(374.43 395.86) rotate(38.92)" font-size="4.1" dy="1.4" fill="#444" stroke="#444" stroke-width="0.04">TNFSF10</text>
<text transform="translate(369.70 401.13) rotate(44.90)" font-size="4.1" dy="1.4" fill="#444" stroke="#444" stroke-width="0.04">PROS1</text>
<text transform="translate(364.44 405.88) rotate(50.88)" font-size="4.1" dy="1.4" fill="#444" stroke="#444" stroke-width="0.04">HSPG2</text>
<text transform="translate(358.72 410.06) rotate(56.86)" font-size="4.1" dy="1.4" fill="#444" stroke="#444" stroke-width="0.04">LAMB1</text>
<text transform="translate(352.59 413.61) rotate(62.84)" font-size="4.1" dy="1.4" fill="#444" stroke="#444" stroke-width="0.04">HMGB1</text>
<text transform="translate(346.13 416.51) rotate(68.82)" font-size="4.1" dy="1.4" fill="#444" stroke="#444" stroke-width="0.04">BAX</text>
<text transform="translate(339.40 418.72) rotate(74.80)" font-size="4.1" dy="1.4" fill="#444" stroke="#444" stroke-width="0.04">PLAU</text>
<text transform="translate(332.48 420.22) rotate(80.78)" font-size="4.1" dy="1.4" fill="#444" stroke="#444" stroke-width="0.04">VEGFA</text>
<text transform="translate(325.44 420.99) rotate(86.76)" font-size="4.1" dy="1.4" fill="#444" stroke="#444" stroke-width="0.04">GAS6</text>
<text transform="translate(318.35 421.02) rotate(-87.26)" font-size="4.1" text-anchor="end" dy="1.4" fill="#444" stroke="#444" stroke-width="0.04">LRP1</text>
<text transform="translate(311.31 420.32) rotate(-81.28)" font-size="4.1" text-anchor="end" dy="1.4" fill="#444" stroke="#444" stroke-width="0.04">SEMA4D</text>
<text transform="translate(304.37 418.88) rotate(-75.30)" font-size="4.1" text-anchor="end" dy="1.4" fill="#444" stroke="#444" stroke-width="0.04">GDF15</text>
<text transform="translate(297.62 416.73) rotate(-69.32)" font-size="4.1" text-anchor="end" dy="1.4" fill="#444" stroke="#444" stroke-width="0.04">ADAM10</text>
<text transform="translate(291.13 413.88) rotate(-63.34)" font-size="4.1" text-anchor="end" dy="1.4" fill="#444" stroke="#444" stroke-width="0.04">NECTIN2</text>
<text transform="translate(284.98 410.38) rotate(-57.36)" font-size="4.1" text-anchor="end" dy="1.4" fill="#444" stroke="#444" stroke-width="0.04">SPP1</text>
<text transform="translate(279.22 406.25) rotate(-51.38)" font-size="4.1" text-anchor="end" dy="1.4" fill="#444" stroke="#444" stroke-width="0.04">BMP4</text>
<text transform="translate(273.92 401.55) rotate(-45.40)" font-size="4.1" text-anchor="end" dy="1.4" fill="#444" stroke="#444" stroke-width="0.04">SDC4</text>
<text transform="translate(269.15 396.32) rotate(-39.42)" font-size="4.1" text-anchor="end" dy="1.4" fill="#444" stroke="#444" stroke-width="0.04">LAMC1</text>
<text transform="translate(264.94 390.62) rotate(-33.44)" font-size="4.1" text-anchor="end" dy="1.4" fill="#444" stroke="#444" stroke-width="0.04">THBS1</text>
<text transform="translate(261.35 384.51) rotate(-27.46)" font-size="4.1" text-anchor="end" dy="1.4" fill="#444" stroke="#444" stroke-width="0.04">EFNB2</text>
<text transform="translate(258.42 378.06) rotate(-21.48)" font-size="4.1" text-anchor="end" dy="1.4" fill="#444" stroke="#444" stroke-width="0.04">ANXA1</text>
<text transform="translate(256.17 371.35) rotate(-15.50)" font-size="4.1" text-anchor="end" dy="1.4" fill="#444" stroke="#444" stroke-width="0.04">CD99</text>
<text transform="translate(254.64 364.43) rotate(-9.52)" font-size="4.1" text-anchor="end" dy="1.4" fill="#444" stroke="#444" stroke-width="0.04">ANGPTL4</text>
<text transform="translate(253.83 357.39) rotate(-3.54)" font-size="4.1" text-anchor="end" dy="1.4" fill="#444" stroke="#444" stroke-width="0.04">F2</text>
<text x="111.0" y="471.9" font-size="8.4" text-anchor="middle" fill="#222" stroke="#222" stroke-width="0.14">SUPM2 C50</text>
<path d="M20.90,547.81 A93.5,93.5 0 0 1 202.90,555.60 L195.53,556.98 A86.0,86.0 0 0 0 28.13,549.82 Z" fill="#f40a0a"/>
<path d="M204.50,572.80 A93.5,93.5 0 1 1 17.96,563.51 L25.43,564.26 A86.0,86.0 0 1 0 197.00,572.80 Z" fill="#1fd11f"/>
<path id="d1r" d="M57.01,503.69 A87.7,87.7 0 0 1 169.68,507.63" fill="none"/>
<text font-size="5.9" fill="#fff" stroke="#fff" stroke-width="0.1"><textPath href="#d1r" startOffset="50%" text-anchor="middle">Receptors</textPath></text>
<path id="d1g" d="M51.99,643.12 A91.8,91.8 0 0 0 170.01,643.12" fill="none"/>
<text font-size="5.9" fill="#fff" stroke="#fff" stroke-width="0.1"><textPath href="#d1g" startOffset="50%" text-anchor="middle">Ligands</textPath></text>
<path d="M58.02,546.61 A59.1,59.1 0 0 1 61.95,539.84 C117.19,561.41 130.90,579.16 130.51,628.59 A59.1,59.1 0 0 1 126.45,629.84 C130.09,579.41 116.40,562.76 58.02,546.61 Z" fill="#8da7bc" fill-opacity="0.85" stroke="#fff" stroke-opacity="0.25" stroke-width="0.3"/>
<path d="M148.80,527.37 A59.1,59.1 0 0 1 151.44,529.70 C135.09,559.38 128.90,579.67 120.49,631.13 A59.1,59.1 0 0 1 116.28,631.66 C128.06,579.77 134.56,558.91 148.80,527.37 Z" fill="#f9b078" fill-opacity="0.85" stroke="#fff" stroke-opacity="0.25" stroke-width="0.3"/>
<path d="M55.94,551.33 A59.1,59.1 0 0 1 57.66,547.36 C116.33,562.91 138.82,568.10 170.10,573.32 A59.1,59.1 0 0 1 169.91,577.56 C138.78,568.95 115.99,563.71 55.94,551.33 Z" fill="#00d3df" fill-opacity="0.85" stroke="#fff" stroke-opacity="0.25" stroke-width="0.3"/>
<path d="M134.38,518.52 A59.1,59.1 0 0 1 136.26,519.37 C132.05,557.31 123.77,579.37 94.87,629.66 A59.1,59.1 0 0 1 90.83,628.35 C122.97,579.11 131.68,557.14 134.38,518.52 Z" fill="#73bef7" fill-opacity="0.85" stroke="#fff" stroke-opacity="0.25" stroke-width="0.3"/>
<path d="M111.31,513.70 A59.1,59.1 0 0 1 113.78,513.77 C127.56,556.19 124.78,579.61 99.90,630.85 A59.1,59.1 0 0 1 95.76,629.90 C123.95,579.42 127.06,556.18 111.31,513.70 Z" fill="#eb50d6" fill-opacity="0.85" stroke="#fff" stroke-opacity="0.25" stroke-width="0.3"/>
<path d="M99.72,514.79 A59.1,59.1 0 0 1 103.03,514.24 C125.41,556.29 122.79,579.05 89.96,628.03 A59.1,59.1 0 0 1 86.05,626.37 C122.01,578.71 124.74,556.40 99.72,514.79 Z" fill="#f081ca" fill-opacity="0.85" stroke="#fff" stroke-opacity="0.25" stroke-width="0.3"/>
<path d="M159.59,539.16 A59.1,59.1 0 0 1 161.55,542.18 C137.11,561.88 117.20,574.61 62.02,605.87 A59.1,59.1 0 0 1 59.77,602.27 C116.75,573.89 136.72,561.27 159.59,539.16 Z" fill="#f9d66a" fill-opacity="0.85" stroke="#fff" stroke-opacity="0.25" stroke-width="0.3"/>
<path d="M165.80,550.66 A59.1,59.1 0 0 1 166.43,552.30 C138.09,563.90 115.21,568.81 52.04,576.85 A59.1,59.1 0 0 1 51.90,572.61 C115.18,567.96 137.96,563.57 165.80,550.66 Z" fill="#00d3df" fill-opacity="0.85" stroke="#fff" stroke-opacity="0.25" stroke-width="0.3"/>
<path d="M167.27,554.73 A59.1,59.1 0 0 1 167.78,556.41 C138.36,564.72 115.18,567.78 51.91,571.68 A59.1,59.1 0 0 1 52.14,567.44 C115.23,566.93 138.25,564.39 167.27,554.73 Z" fill="#7378ed" fill-opacity="0.85" stroke="#fff" stroke-opacity="0.25" stroke-width="0.3"/>
<path d="M78.55,523.40 A59.1,59.1 0 0 1 85.37,519.55 C121.87,557.35 138.39,571.17 167.94,588.64 A59.1,59.1 0 0 1 166.65,592.69 C138.13,571.98 120.51,558.12 78.55,523.40 Z" fill="#8da7bc" fill-opacity="0.85" stroke="#fff" stroke-opacity="0.25" stroke-width="0.3"/>
<path d="M158.04,537.03 A59.1,59.1 0 0 1 159.11,538.48 C136.62,561.14 116.66,573.73 59.32,601.46 A59.1,59.1 0 0 1 57.39,597.68 C116.28,572.98 136.41,560.85 158.04,537.03 Z" fill="#f081ca" fill-opacity="0.85" stroke="#fff" stroke-opacity="0.25" stroke-width="0.3"/>
<path d="M140.12,521.37 A59.1,59.1 0 0 1 143.13,523.19 C133.43,558.08 119.26,576.93 72.29,617.46 A59.1,59.1 0 0 1 69.18,614.56 C118.64,576.35 132.82,557.71 140.12,521.37 Z" fill="#f9b078" fill-opacity="0.85" stroke="#fff" stroke-opacity="0.25" stroke-width="0.3"/>
<path d="M167.78,556.41 A59.1,59.1 0 0 1 168.24,558.10 C138.45,565.06 138.62,570.16 169.10,583.60 A59.1,59.1 0 0 1 168.18,587.75 C138.44,570.99 138.36,564.72 167.78,556.41 Z" fill="#1a49e2" fill-opacity="0.85" stroke="#fff" stroke-opacity="0.25" stroke-width="0.3"/>
<path d="M107.19,513.82 A59.1,59.1 0 0 1 110.48,513.70 C126.90,556.18 133.66,577.76 144.32,621.61 A59.1,59.1 0 0 1 140.73,623.88 C132.95,578.22 126.24,556.20 107.19,513.82 Z" fill="#bc96ed" fill-opacity="0.85" stroke="#fff" stroke-opacity="0.25" stroke-width="0.3"/>
<path d="M117.18,514.02 A59.1,59.1 0 0 1 121.26,514.60 C129.05,556.36 135.26,576.45 152.32,615.06 A59.1,59.1 0 0 1 149.18,617.92 C134.64,577.02 128.24,556.24 117.18,514.02 Z" fill="#1ed883" fill-opacity="0.85" stroke="#fff" stroke-opacity="0.25" stroke-width="0.3"/>
<path d="M113.78,513.77 A59.1,59.1 0 0 1 116.25,513.93 C128.05,556.23 138.07,572.15 166.33,593.56 A59.1,59.1 0 0 1 164.70,597.48 C137.74,572.94 127.56,556.19 113.78,513.77 Z" fill="#7378ed" fill-opacity="0.85" stroke="#fff" stroke-opacity="0.25" stroke-width="0.3"/>
<path d="M85.37,519.55 A59.1,59.1 0 0 1 92.64,516.62 C123.33,556.76 138.77,569.14 169.83,578.48 A59.1,59.1 0 0 1 169.27,582.69 C138.65,569.98 121.87,557.35 85.37,519.55 Z" fill="#8da7bc" fill-opacity="0.85" stroke="#fff" stroke-opacity="0.25" stroke-width="0.3"/>
<path d="M156.93,535.61 A59.1,59.1 0 0 1 158.04,537.03 C136.41,560.85 115.82,571.84 55.11,592.02 A59.1,59.1 0 0 1 53.88,587.96 C115.58,571.03 136.19,560.56 156.93,535.61 Z" fill="#bc96ed" fill-opacity="0.85" stroke="#fff" stroke-opacity="0.25" stroke-width="0.3"/>
<path d="M151.44,529.70 A59.1,59.1 0 0 1 153.93,532.18 C135.59,559.88 131.86,578.77 135.31,626.67 A59.1,59.1 0 0 1 131.38,628.27 C131.08,579.09 135.09,559.38 151.44,529.70 Z" fill="#f9b078" fill-opacity="0.85" stroke="#fff" stroke-opacity="0.25" stroke-width="0.3"/>
<path d="M164.03,546.71 A59.1,59.1 0 0 1 165.48,549.90 C137.90,563.42 116.20,572.81 57.01,596.84 A59.1,59.1 0 0 1 55.42,592.90 C115.88,572.02 137.61,562.78 164.03,546.71 Z" fill="#73bef7" fill-opacity="0.85" stroke="#fff" stroke-opacity="0.25" stroke-width="0.3"/>
<path d="M143.13,523.19 A59.1,59.1 0 0 1 146.02,525.20 C134.00,558.48 121.84,578.64 85.21,625.98 A59.1,59.1 0 0 1 81.46,623.99 C121.09,578.24 133.43,558.08 143.13,523.19 Z" fill="#f9b078" fill-opacity="0.85" stroke="#fff" stroke-opacity="0.25" stroke-width="0.3"/>
<path d="M66.74,533.64 A59.1,59.1 0 0 1 72.30,528.13 C119.26,559.07 135.97,575.70 155.85,611.28 A59.1,59.1 0 0 1 152.97,614.40 C135.39,576.32 118.15,560.17 66.74,533.64 Z" fill="#8da7bc" fill-opacity="0.85" stroke="#fff" stroke-opacity="0.25" stroke-width="0.3"/>
<path d="M162.84,544.42 A59.1,59.1 0 0 1 163.66,545.97 C137.53,562.63 115.53,570.85 53.65,587.06 A59.1,59.1 0 0 1 52.77,582.91 C115.35,570.02 137.37,562.32 162.84,544.42 Z" fill="#00d3df" fill-opacity="0.85" stroke="#fff" stroke-opacity="0.25" stroke-width="0.3"/>
<path d="M122.07,514.75 A59.1,59.1 0 0 1 126.00,515.63 C130.00,556.57 120.07,577.57 76.34,620.67 A59.1,59.1 0 0 1 72.99,618.06 C119.40,577.05 129.21,556.39 122.07,514.75 Z" fill="#1ed883" fill-opacity="0.85" stroke="#fff" stroke-opacity="0.25" stroke-width="0.3"/>
<path d="M146.02,525.20 A59.1,59.1 0 0 1 148.80,527.37 C134.56,558.91 125.80,579.76 105.02,631.60 A59.1,59.1 0 0 1 100.81,631.02 C124.96,579.64 134.00,558.48 146.02,525.20 Z" fill="#f9b078" fill-opacity="0.85" stroke="#fff" stroke-opacity="0.25" stroke-width="0.3"/>
<path d="M93.43,516.37 A59.1,59.1 0 0 1 98.91,514.95 C124.58,556.43 127.87,579.79 115.35,631.74 A59.1,59.1 0 0 1 111.11,631.90 C127.02,579.82 123.49,556.71 93.43,516.37 Z" fill="#cf9973" fill-opacity="0.85" stroke="#fff" stroke-opacity="0.25" stroke-width="0.3"/>
<path d="M126.00,515.63 A59.1,59.1 0 0 1 129.85,516.79 C130.77,556.80 120.93,578.14 80.66,623.52 A59.1,59.1 0 0 1 77.10,621.21 C120.22,577.68 130.00,556.57 126.00,515.63 Z" fill="#1ed883" fill-opacity="0.85" stroke="#fff" stroke-opacity="0.25" stroke-width="0.3"/>
<path d="M161.97,542.89 A59.1,59.1 0 0 1 162.84,544.42 C137.37,562.32 115.32,569.84 52.62,581.99 A59.1,59.1 0 0 1 52.11,577.78 C115.22,569.00 137.19,562.02 161.97,542.89 Z" fill="#7378ed" fill-opacity="0.85" stroke="#fff" stroke-opacity="0.25" stroke-width="0.3"/>
<path d="M103.03,514.24 A59.1,59.1 0 0 1 106.36,513.88 C126.07,556.22 126.84,579.82 110.18,631.89 A59.1,59.1 0 0 1 105.94,631.68 C125.99,579.78 125.41,556.29 103.03,514.24 Z" fill="#73bef7" fill-opacity="0.85" stroke="#fff" stroke-opacity="0.25" stroke-width="0.3"/>
<path d="M129.85,516.79 A59.1,59.1 0 0 1 133.62,518.20 C131.52,557.08 129.91,579.46 125.55,630.08 A59.1,59.1 0 0 1 121.41,630.98 C129.08,579.64 130.77,556.80 129.85,516.79 Z" fill="#1aa2b5" fill-opacity="0.85" stroke="#fff" stroke-opacity="0.25" stroke-width="0.3"/>
<path d="M153.93,532.18 A59.1,59.1 0 0 1 156.27,534.81 C136.05,560.40 134.49,577.14 148.46,618.51 A59.1,59.1 0 0 1 145.09,621.08 C133.82,577.66 135.59,559.88 153.93,532.18 Z" fill="#f9b078" fill-opacity="0.85" stroke="#fff" stroke-opacity="0.25" stroke-width="0.3"/>
<path d="M54.39,555.82 A59.1,59.1 0 0 1 55.64,552.10 C115.93,563.86 136.61,574.88 159.05,607.21 A59.1,59.1 0 0 1 156.45,610.57 C136.09,575.55 115.68,564.60 54.39,555.82 Z" fill="#cf9973" fill-opacity="0.85" stroke="#fff" stroke-opacity="0.25" stroke-width="0.3"/>
<path d="M166.43,552.30 A59.1,59.1 0 0 1 167.01,553.95 C138.20,564.23 137.17,574.02 161.87,602.88 A59.1,59.1 0 0 1 159.58,606.46 C136.72,574.73 138.09,563.90 166.43,552.30 Z" fill="#f081ca" fill-opacity="0.85" stroke="#fff" stroke-opacity="0.25" stroke-width="0.3"/>
<path d="M72.30,528.13 A59.1,59.1 0 0 1 78.55,523.40 C120.51,558.12 137.66,573.10 164.31,598.32 A59.1,59.1 0 0 1 162.34,602.08 C137.27,573.86 119.26,559.07 72.30,528.13 Z" fill="#8da7bc" fill-opacity="0.85" stroke="#fff" stroke-opacity="0.25" stroke-width="0.3"/>
<path d="M137.00,519.73 A59.1,59.1 0 0 1 140.12,521.37 C132.82,557.71 117.82,575.45 65.10,610.03 A59.1,59.1 0 0 1 62.55,606.64 C117.31,574.77 132.20,557.39 137.00,519.73 Z" fill="#f9b078" fill-opacity="0.85" stroke="#fff" stroke-opacity="0.25" stroke-width="0.3"/>
<path d="M168.44,558.90 A59.1,59.1 0 0 1 169.09,561.93 C138.62,565.83 118.51,576.22 68.53,613.90 A59.1,59.1 0 0 1 65.69,610.75 C117.94,575.59 138.49,565.22 168.44,558.90 Z" fill="#ed8d8d" fill-opacity="0.85" stroke="#fff" stroke-opacity="0.25" stroke-width="0.3"/>
<path d="M61.95,539.84 A59.1,59.1 0 0 1 66.74,533.64 C118.15,560.17 132.79,578.31 139.93,624.34 A59.1,59.1 0 0 1 136.15,626.28 C132.03,578.70 117.19,561.41 61.95,539.84 Z" fill="#8da7bc" fill-opacity="0.85" stroke="#fff" stroke-opacity="0.25" stroke-width="0.3"/>
<path d="M46.83,553.55 A67.0,67.0 0 0 1 48.24,549.34 L54.24,551.58 A60.6,60.6 0 0 0 52.96,555.39 Z" fill="#e8060c"/>
<path d="M47.96,552.92 A66.1,66.1 0 0 1 48.77,550.52 L53.10,552.07 A61.5,61.5 0 0 0 52.35,554.31 Z" fill="#c00008"/>
<path d="M48.58,548.46 A67.0,67.0 0 0 1 50.53,543.96 L56.30,546.71 A60.6,60.6 0 0 0 54.54,550.79 Z" fill="#e8060c"/>
<path d="M49.76,547.93 A66.1,66.1 0 0 1 50.95,545.18 L55.13,547.10 A61.5,61.5 0 0 0 54.02,549.66 Z" fill="#c00008"/>
<path d="M50.94,543.11 A67.0,67.0 0 0 1 90.18,509.12 L92.17,515.20 A60.6,60.6 0 0 0 56.67,545.95 Z" fill="#e8060c"/>
<path d="M91.08,508.83 A67.0,67.0 0 0 1 97.30,507.22 L98.61,513.48 A60.6,60.6 0 0 0 92.98,514.94 Z" fill="#e8060c"/>
<path d="M92.23,509.42 A66.1,66.1 0 0 1 96.58,508.29 L97.58,512.78 A61.5,61.5 0 0 0 93.53,513.83 Z" fill="#c00008"/>
<path d="M98.22,507.03 A67.0,67.0 0 0 1 105.74,506.01 L106.25,512.39 A60.6,60.6 0 0 0 99.44,513.31 Z" fill="#e8060c"/>
<path d="M106.68,505.94 A67.0,67.0 0 0 1 110.42,505.80 L110.47,512.20 A60.6,60.6 0 0 0 107.09,512.33 Z" fill="#e8060c"/>
<path d="M107.66,506.78 A66.1,66.1 0 0 1 109.50,506.72 L109.60,511.32 A61.5,61.5 0 0 0 107.89,511.38 Z" fill="#c00008"/>
<path d="M111.35,505.80 A67.0,67.0 0 0 1 116.96,506.07 L116.39,512.44 A60.6,60.6 0 0 0 111.32,512.20 Z" fill="#e8060c"/>
<path d="M112.27,506.71 A66.1,66.1 0 0 1 115.96,506.89 L115.61,511.47 A61.5,61.5 0 0 0 112.18,511.31 Z" fill="#c00008"/>
<path d="M118.00,506.17 A67.0,67.0 0 0 1 122.63,506.82 L121.52,513.12 A60.6,60.6 0 0 0 117.33,512.53 Z" fill="#e8060c"/>
<path d="M118.83,507.16 A66.1,66.1 0 0 1 121.57,507.55 L120.83,512.09 A61.5,61.5 0 0 0 118.28,511.73 Z" fill="#c00008"/>
<path d="M123.55,506.99 A67.0,67.0 0 0 1 136.64,510.90 L134.19,516.81 A60.6,60.6 0 0 0 122.36,513.27 Z" fill="#e8060c"/>
<path d="M137.50,511.26 A67.0,67.0 0 0 1 139.63,512.23 L136.90,518.01 A60.6,60.6 0 0 0 134.97,517.14 Z" fill="#e8060c"/>
<path d="M137.99,512.46 A66.1,66.1 0 0 1 138.41,512.65 L136.50,516.84 A61.5,61.5 0 0 0 136.11,516.66 Z" fill="#c00008"/>
<path d="M140.48,512.63 A67.0,67.0 0 0 1 162.32,529.73 L157.42,533.85 A60.6,60.6 0 0 0 137.66,518.38 Z" fill="#e8060c"/>
<path d="M163.07,530.64 A67.0,67.0 0 0 1 165.55,533.89 L160.34,537.61 A60.6,60.6 0 0 0 158.10,534.66 Z" fill="#e8060c"/>
<path d="M162.95,531.92 A66.1,66.1 0 0 1 164.27,533.67 L160.56,536.39 A61.5,61.5 0 0 0 159.33,534.77 Z" fill="#c00008"/>
<path d="M166.08,534.66 A67.0,67.0 0 0 1 168.31,538.09 L162.84,541.41 A60.6,60.6 0 0 0 160.82,538.30 Z" fill="#e8060c"/>
<path d="M165.86,535.93 A66.1,66.1 0 0 1 167.06,537.77 L163.15,540.21 A61.5,61.5 0 0 0 162.05,538.50 Z" fill="#c00008"/>
<path d="M168.79,538.90 A67.0,67.0 0 0 1 170.70,542.38 L164.99,545.29 A60.6,60.6 0 0 0 163.27,542.13 Z" fill="#e8060c"/>
<path d="M168.47,540.15 A66.1,66.1 0 0 1 169.47,541.97 L165.40,544.12 A61.5,61.5 0 0 0 164.47,542.42 Z" fill="#c00008"/>
<path d="M171.12,543.22 A67.0,67.0 0 0 1 172.76,546.84 L166.86,549.32 A60.6,60.6 0 0 0 165.37,546.04 Z" fill="#e8060c"/>
<path d="M170.71,544.45 A66.1,66.1 0 0 1 171.57,546.34 L167.36,548.18 A61.5,61.5 0 0 0 166.56,546.42 Z" fill="#c00008"/>
<path d="M173.12,547.70 A67.0,67.0 0 0 1 174.50,551.43 L168.43,553.47 A60.6,60.6 0 0 0 167.19,550.10 Z" fill="#e8060c"/>
<path d="M172.63,548.90 A66.1,66.1 0 0 1 173.35,550.84 L169.01,552.37 A61.5,61.5 0 0 0 168.34,550.56 Z" fill="#c00008"/>
<path d="M174.79,552.32 A67.0,67.0 0 0 1 175.90,556.14 L169.70,557.73 A60.6,60.6 0 0 0 168.70,554.27 Z" fill="#e8060c"/>
<path d="M174.21,553.47 A66.1,66.1 0 0 1 174.79,555.47 L170.35,556.68 A61.5,61.5 0 0 0 169.81,554.82 Z" fill="#c00008"/>
<path d="M176.12,557.05 A67.0,67.0 0 0 1 176.86,560.48 L170.57,561.65 A60.6,60.6 0 0 0 169.90,558.55 Z" fill="#e8060c"/>
<path d="M175.46,558.16 A66.1,66.1 0 0 1 175.80,559.73 L171.29,560.64 A61.5,61.5 0 0 0 170.97,559.17 Z" fill="#c00008"/>
<path d="M178.00,573.38 A67.0,67.0 0 1 1 44.28,566.73 L50.65,567.31 A60.6,60.6 0 1 0 171.60,573.33 Z" fill="#22cc22"/>
<path d="M177.59,573.96 A66.6,66.6 0 0 1 177.43,577.58 L172.84,577.25 A62.0,62.0 0 0 0 172.99,573.88 Z" fill="#0e9a0e"/>
<path d="M177.23,579.78 A66.6,66.6 0 0 1 176.76,583.37 L172.21,582.64 A62.0,62.0 0 0 0 172.66,579.30 Z" fill="#0e9a0e"/>
<path d="M176.37,585.54 A66.6,66.6 0 0 1 175.58,589.08 L171.12,587.96 A62.0,62.0 0 0 0 171.85,584.66 Z" fill="#0e9a0e"/>
<path d="M175.00,591.21 A66.6,66.6 0 0 1 173.91,594.66 L169.56,593.15 A62.0,62.0 0 0 0 170.58,589.94 Z" fill="#0e9a0e"/>
<path d="M173.15,596.74 A66.6,66.6 0 0 1 171.76,600.08 L167.56,598.20 A62.0,62.0 0 0 0 168.86,595.08 Z" fill="#0e9a0e"/>
<path d="M170.82,602.08 A66.6,66.6 0 0 1 169.14,605.29 L165.12,603.04 A62.0,62.0 0 0 0 166.69,600.06 Z" fill="#0e9a0e"/>
<path d="M168.03,607.20 A66.6,66.6 0 0 1 166.07,610.25 L162.27,607.66 A62.0,62.0 0 0 0 164.09,604.82 Z" fill="#0e9a0e"/>
<path d="M164.80,612.05 A66.6,66.6 0 0 1 162.59,614.92 L159.03,612.01 A62.0,62.0 0 0 0 161.09,609.34 Z" fill="#0e9a0e"/>
<path d="M161.16,616.61 A66.6,66.6 0 0 1 158.71,619.27 L155.41,616.06 A62.0,62.0 0 0 0 157.70,613.58 Z" fill="#0e9a0e"/>
<path d="M157.14,620.83 A66.6,66.6 0 0 1 154.46,623.26 L151.46,619.78 A62.0,62.0 0 0 0 153.96,617.51 Z" fill="#0e9a0e"/>
<path d="M152.77,624.68 A66.6,66.6 0 0 1 149.88,626.87 L147.20,623.14 A62.0,62.0 0 0 0 149.88,621.09 Z" fill="#0e9a0e"/>
<path d="M148.07,628.13 A66.6,66.6 0 0 1 145.01,630.06 L142.66,626.11 A62.0,62.0 0 0 0 145.51,624.31 Z" fill="#0e9a0e"/>
<path d="M143.09,631.16 A66.6,66.6 0 0 1 139.87,632.82 L137.88,628.67 A62.0,62.0 0 0 0 140.87,627.13 Z" fill="#0e9a0e"/>
<path d="M137.86,633.74 A66.6,66.6 0 0 1 134.51,635.11 L132.89,630.81 A62.0,62.0 0 0 0 136.01,629.53 Z" fill="#0e9a0e"/>
<path d="M132.43,635.86 A66.6,66.6 0 0 1 128.97,636.93 L127.73,632.50 A62.0,62.0 0 0 0 130.95,631.50 Z" fill="#0e9a0e"/>
<path d="M126.84,637.49 A66.6,66.6 0 0 1 123.30,638.25 L122.45,633.73 A62.0,62.0 0 0 0 125.74,633.02 Z" fill="#0e9a0e"/>
<path d="M121.12,638.63 A66.6,66.6 0 0 1 117.53,639.08 L117.08,634.50 A62.0,62.0 0 0 0 120.42,634.08 Z" fill="#0e9a0e"/>
<path d="M115.33,639.26 A66.6,66.6 0 0 1 111.71,639.40 L111.66,634.80 A62.0,62.0 0 0 0 115.03,634.67 Z" fill="#0e9a0e"/>
<path d="M109.50,639.38 A66.6,66.6 0 0 1 105.88,639.20 L106.23,634.62 A62.0,62.0 0 0 0 109.60,634.78 Z" fill="#0e9a0e"/>
<path d="M103.68,639.00 A66.6,66.6 0 0 1 100.09,638.50 L100.85,633.96 A62.0,62.0 0 0 0 104.19,634.42 Z" fill="#0e9a0e"/>
<path d="M97.92,638.10 A66.6,66.6 0 0 1 94.39,637.30 L95.54,632.84 A62.0,62.0 0 0 0 98.83,633.59 Z" fill="#0e9a0e"/>
<path d="M92.26,636.71 A66.6,66.6 0 0 1 88.82,635.60 L90.35,631.26 A62.0,62.0 0 0 0 93.56,632.30 Z" fill="#0e9a0e"/>
<path d="M86.75,634.83 A66.6,66.6 0 0 1 83.41,633.42 L85.32,629.23 A62.0,62.0 0 0 0 88.42,630.54 Z" fill="#0e9a0e"/>
<path d="M81.42,632.47 A66.6,66.6 0 0 1 78.22,630.77 L80.48,626.77 A62.0,62.0 0 0 0 83.46,628.35 Z" fill="#0e9a0e"/>
<path d="M76.31,629.65 A66.6,66.6 0 0 1 73.27,627.68 L75.88,623.89 A62.0,62.0 0 0 0 78.71,625.73 Z" fill="#0e9a0e"/>
<path d="M71.47,626.40 A66.6,66.6 0 0 1 68.62,624.17 L71.55,620.63 A62.0,62.0 0 0 0 74.20,622.70 Z" fill="#0e9a0e"/>
<path d="M66.94,622.74 A66.6,66.6 0 0 1 64.29,620.27 L67.51,616.99 A62.0,62.0 0 0 0 69.98,619.29 Z" fill="#0e9a0e"/>
<path d="M62.74,618.70 A66.6,66.6 0 0 1 60.32,616.01 L63.82,613.02 A62.0,62.0 0 0 0 66.07,615.53 Z" fill="#0e9a0e"/>
<path d="M58.91,614.30 A66.6,66.6 0 0 1 56.73,611.41 L60.48,608.74 A62.0,62.0 0 0 0 62.51,611.43 Z" fill="#0e9a0e"/>
<path d="M55.48,609.59 A66.6,66.6 0 0 1 53.56,606.52 L57.53,604.19 A62.0,62.0 0 0 0 59.32,607.05 Z" fill="#0e9a0e"/>
<path d="M52.48,604.59 A66.6,66.6 0 0 1 50.84,601.36 L54.99,599.39 A62.0,62.0 0 0 0 56.52,602.40 Z" fill="#0e9a0e"/>
<path d="M49.92,599.35 A66.6,66.6 0 0 1 48.57,595.99 L52.88,594.39 A62.0,62.0 0 0 0 54.14,597.52 Z" fill="#0e9a0e"/>
<path d="M47.83,593.91 A66.6,66.6 0 0 1 46.78,590.45 L51.22,589.23 A62.0,62.0 0 0 0 52.20,592.45 Z" fill="#0e9a0e"/>
<path d="M46.23,588.31 A66.6,66.6 0 0 1 45.48,584.76 L50.01,583.94 A62.0,62.0 0 0 0 50.70,587.24 Z" fill="#0e9a0e"/>
<path d="M45.12,582.59 A66.6,66.6 0 0 1 44.69,578.99 L49.27,578.56 A62.0,62.0 0 0 0 49.67,581.91 Z" fill="#0e9a0e"/>
<path d="M44.52,576.79 A66.6,66.6 0 0 1 44.40,573.17 L49.00,573.14 A62.0,62.0 0 0 0 49.11,576.51 Z" fill="#0e9a0e"/>
<path d="M44.43,570.96 A66.6,66.6 0 0 1 44.62,567.34 L49.21,567.72 A62.0,62.0 0 0 0 49.02,571.09 Z" fill="#0e9a0e"/>
<text transform="translate(46.65 551.14) rotate(18.60)" font-size="4.1" text-anchor="end" dy="1.4" fill="#444" stroke="#444" stroke-width="0.04">CD3</text>
<text transform="translate(48.68 545.83) rotate(23.40)" font-size="4.1" text-anchor="end" dy="1.4" fill="#444" stroke="#444" stroke-width="0.04">RAMP2</text>
<text transform="translate(66.54 521.48) rotate(49.10)" font-size="4.1" text-anchor="end" dy="1.4" fill="#444" stroke="#444" stroke-width="0.04">EPHB6</text>
<text transform="translate(93.94 507.08) rotate(75.45)" font-size="4.1" text-anchor="end" dy="1.4" fill="#444" stroke="#444" stroke-width="0.04">TNFRSF13</text>
<text transform="translate(101.84 505.52) rotate(82.25)" font-size="4.1" text-anchor="end" dy="1.4" fill="#444" stroke="#444" stroke-width="0.04">CD36</text>
<text transform="translate(108.51 504.95) rotate(87.90)" font-size="4.1" text-anchor="end" dy="1.4" fill="#444" stroke="#444" stroke-width="0.04">CD6</text>
<text transform="translate(114.20 504.98) rotate(272.70)" font-size="4.1" dy="1.4" fill="#444" stroke="#444" stroke-width="0.04">SELL</text>
<text transform="translate(120.45 505.56) rotate(278.00)" font-size="4.1" dy="1.4" fill="#444" stroke="#444" stroke-width="0.04">CD96</text>
<text transform="translate(130.46 507.75) rotate(286.65)" font-size="4.1" dy="1.4" fill="#444" stroke="#444" stroke-width="0.04">CXCR4</text>
<text transform="translate(138.94 510.92) rotate(294.30)" font-size="4.1" dy="1.4" fill="#444" stroke="#444" stroke-width="0.04">ITGB7</text>
<text transform="translate(152.85 519.33) rotate(308.05)" font-size="4.1" dy="1.4" fill="#444" stroke="#444" stroke-width="0.04">ITGA4</text>
<text transform="translate(165.05 531.70) rotate(322.75)" font-size="4.1" dy="1.4" fill="#444" stroke="#444" stroke-width="0.04">TNFRSF1</text>
<text transform="translate(167.98 535.87) rotate(327.05)" font-size="4.1" dy="1.4" fill="#444" stroke="#444" stroke-width="0.04">TNFRSF10</text>
<text transform="translate(170.56 540.19) rotate(331.30)" font-size="4.1" dy="1.4" fill="#444" stroke="#444" stroke-width="0.04">NRP2</text>
<text transform="translate(172.79 544.64) rotate(335.50)" font-size="4.1" dy="1.4" fill="#444" stroke="#444" stroke-width="0.04">CD47</text>
<text transform="translate(174.68 549.24) rotate(339.70)" font-size="4.1" dy="1.4" fill="#444" stroke="#444" stroke-width="0.04">KIT</text>
<text transform="translate(176.24 553.97) rotate(343.90)" font-size="4.1" dy="1.4" fill="#444" stroke="#444" stroke-width="0.04">PTK7</text>
<text transform="translate(177.39 558.57) rotate(347.90)" font-size="4.1" dy="1.4" fill="#444" stroke="#444" stroke-width="0.04">SLC1A5</text>
<text transform="translate(178.83 575.83) rotate(2.56)" font-size="4.1" dy="1.4" fill="#444" stroke="#444" stroke-width="0.04">MIF</text>
<text transform="translate(178.31 581.75) rotate(7.57)" font-size="4.1" dy="1.4" fill="#444" stroke="#444" stroke-width="0.04">BMP4</text>
<text transform="translate(177.27 587.60) rotate(12.59)" font-size="4.1" dy="1.4" fill="#444" stroke="#444" stroke-width="0.04">VCAN</text>
<text transform="translate(175.72 593.34) rotate(17.61)" font-size="4.1" dy="1.4" fill="#444" stroke="#444" stroke-width="0.04">PDGFB</text>
<text transform="translate(173.68 598.92) rotate(22.62)" font-size="4.1" dy="1.4" fill="#444" stroke="#444" stroke-width="0.04">FN1</text>
<text transform="translate(171.15 604.30) rotate(27.64)" font-size="4.1" dy="1.4" fill="#444" stroke="#444" stroke-width="0.04">EDN1</text>
<text transform="translate(168.17 609.44) rotate(32.66)" font-size="4.1" dy="1.4" fill="#444" stroke="#444" stroke-width="0.04">PECAM1</text>
<text transform="translate(164.74 614.30) rotate(37.67)" font-size="4.1" dy="1.4" fill="#444" stroke="#444" stroke-width="0.04">MEGF10</text>
<text transform="translate(160.91 618.84) rotate(42.69)" font-size="4.1" dy="1.4" fill="#444" stroke="#444" stroke-width="0.04">PROS1</text>
<text transform="translate(156.69 623.02) rotate(47.70)" font-size="4.1" dy="1.4" fill="#444" stroke="#444" stroke-width="0.04">LAMC1</text>
<text transform="translate(152.13 626.83) rotate(52.72)" font-size="4.1" dy="1.4" fill="#444" stroke="#444" stroke-width="0.04">LAMB1</text>
<text transform="translate(147.25 630.22) rotate(57.74)" font-size="4.1" dy="1.4" fill="#444" stroke="#444" stroke-width="0.04">COL4A1</text>
<text transform="translate(142.09 633.17) rotate(62.75)" font-size="4.1" dy="1.4" fill="#444" stroke="#444" stroke-width="0.04">ADAM10</text>
<text transform="translate(136.69 635.65) rotate(67.77)" font-size="4.1" dy="1.4" fill="#444" stroke="#444" stroke-width="0.04">CD99</text>
<text transform="translate(131.10 637.66) rotate(72.79)" font-size="4.1" dy="1.4" fill="#444" stroke="#444" stroke-width="0.04">TIMP1</text>
<text transform="translate(125.35 639.17) rotate(77.80)" font-size="4.1" dy="1.4" fill="#444" stroke="#444" stroke-width="0.04">CALM2</text>
<text transform="translate(119.49 640.17) rotate(82.82)" font-size="4.1" dy="1.4" fill="#444" stroke="#444" stroke-width="0.04">SPP1</text>
<text transform="translate(113.57 640.65) rotate(87.83)" font-size="4.1" dy="1.4" fill="#444" stroke="#444" stroke-width="0.04">FGF2</text>
<text transform="translate(107.62 640.62) rotate(-87.15)" font-size="4.1" text-anchor="end" dy="1.4" fill="#444" stroke="#444" stroke-width="0.04">KITLG</text>
<text transform="translate(101.71 640.06) rotate(-82.13)" font-size="4.1" text-anchor="end" dy="1.4" fill="#444" stroke="#444" stroke-width="0.04">NECTIN2</text>
<text transform="translate(95.86 638.99) rotate(-77.12)" font-size="4.1" text-anchor="end" dy="1.4" fill="#444" stroke="#444" stroke-width="0.04">CXCL12</text>
<text transform="translate(90.13 637.41) rotate(-72.10)" font-size="4.1" text-anchor="end" dy="1.4" fill="#444" stroke="#444" stroke-width="0.04">COL1A1</text>
<text transform="translate(84.56 635.34) rotate(-67.09)" font-size="4.1" text-anchor="end" dy="1.4" fill="#444" stroke="#444" stroke-width="0.04">F2</text>
<text transform="translate(79.20 632.79) rotate(-62.07)" font-size="4.1" text-anchor="end" dy="1.4" fill="#444" stroke="#444" stroke-width="0.04">SEMA4D</text>
<text transform="translate(74.07 629.78) rotate(-57.05)" font-size="4.1" text-anchor="end" dy="1.4" fill="#444" stroke="#444" stroke-width="0.04">GDF15</text>
<text transform="translate(69.23 626.33) rotate(-52.04)" font-size="4.1" text-anchor="end" dy="1.4" fill="#444" stroke="#444" stroke-width="0.04">HSPG2</text>
<text transform="translate(64.71 622.48) rotate(-47.02)" font-size="4.1" text-anchor="end" dy="1.4" fill="#444" stroke="#444" stroke-width="0.04">C3</text>
<text transform="translate(60.54 618.24) rotate(-42.00)" font-size="4.1" text-anchor="end" dy="1.4" fill="#444" stroke="#444" stroke-width="0.04">SLIT2</text>
<text transform="translate(56.76 613.65) rotate(-36.99)" font-size="4.1" text-anchor="end" dy="1.4" fill="#444" stroke="#444" stroke-width="0.04">PLAU</text>
<text transform="translate(53.40 608.75) rotate(-31.97)" font-size="4.1" text-anchor="end" dy="1.4" fill="#444" stroke="#444" stroke-width="0.04">SERPINE1</text>
<text transform="translate(50.48 603.58) rotate(-26.96)" font-size="4.1" text-anchor="end" dy="1.4" fill="#444" stroke="#444" stroke-width="0.04">PTN</text>
<text transform="translate(48.02 598.17) rotate(-21.94)" font-size="4.1" text-anchor="end" dy="1.4" fill="#444" stroke="#444" stroke-width="0.04">BAX</text>
<text transform="translate(46.04 592.56) rotate(-16.92)" font-size="4.1" text-anchor="end" dy="1.4" fill="#444" stroke="#444" stroke-width="0.04">NAMPT</text>
<text transform="translate(44.56 586.81) rotate(-11.91)" font-size="4.1" text-anchor="end" dy="1.4" fill="#444" stroke="#444" stroke-width="0.04">APP</text>
<text transform="translate(43.59 580.95) rotate(-6.89)" font-size="4.1" text-anchor="end" dy="1.4" fill="#444" stroke="#444" stroke-width="0.04">IL15</text>
<text transform="translate(43.14 575.02) rotate(-1.87)" font-size="4.1" text-anchor="end" dy="1.4" fill="#444" stroke="#444" stroke-width="0.04">CALM1</text>
<text transform="translate(43.20 569.08) rotate(3.14)" font-size="4.1" text-anchor="end" dy="1.4" fill="#444" stroke="#444" stroke-width="0.04">LRP1</text>
<text x="321.6" y="471.9" font-size="8.4" text-anchor="middle" fill="#222" stroke="#222" stroke-width="0.14">SUPM2 C100</text>
<path d="M229.38,557.37 A93.5,93.5 0 0 1 413.68,556.56 L406.29,557.87 A86.0,86.0 0 0 0 236.78,558.61 Z" fill="#f40a0a"/>
<path d="M415.10,572.80 A93.5,93.5 0 1 1 228.11,571.17 L235.61,571.30 A86.0,86.0 0 1 0 407.60,572.80 Z" fill="#1fd11f"/>
<path id="d2r" d="M267.61,503.69 A87.7,87.7 0 0 1 380.28,507.63" fill="none"/>
<text font-size="5.9" fill="#fff" stroke="#fff" stroke-width="0.1"><textPath href="#d2r" startOffset="50%" text-anchor="middle">Receptors</textPath></text>
<path id="d2g" d="M262.59,643.12 A91.8,91.8 0 0 0 380.61,643.12" fill="none"/>
<text font-size="5.9" fill="#fff" stroke="#fff" stroke-width="0.1"><textPath href="#d2g" startOffset="50%" text-anchor="middle">Ligands</textPath></text>
<path d="M337.39,515.85 A59.1,59.1 0 0 1 344.03,518.12 C338.09,552.26 337.96,574.19 343.42,627.73 A59.1,59.1 0 0 1 336.92,629.88 C336.66,574.62 336.76,551.81 337.39,515.85 Z" fill="#1a49e2" fill-opacity="0.85" stroke="#fff" stroke-opacity="0.25" stroke-width="0.3"/>
<path d="M291.16,522.14 A59.1,59.1 0 0 1 297.09,519.02 C328.70,552.44 324.07,570.20 273.96,607.78 A59.1,59.1 0 0 1 270.24,602.04 C323.33,569.05 327.51,553.07 291.16,522.14 Z" fill="#00d3df" fill-opacity="0.85" stroke="#fff" stroke-opacity="0.25" stroke-width="0.3"/>
<path d="M361.53,529.23 A59.1,59.1 0 0 1 364.33,531.97 C342.15,555.03 339.37,573.52 350.43,624.39 A59.1,59.1 0 0 1 344.28,627.38 C338.14,574.12 341.59,554.49 361.53,529.23 Z" fill="#eb50d6" fill-opacity="0.85" stroke="#fff" stroke-opacity="0.25" stroke-width="0.3"/>
<path d="M273.97,537.81 A59.1,59.1 0 0 1 278.38,532.49 C324.96,555.14 345.30,564.85 380.12,581.06 A59.1,59.1 0 0 1 378.77,587.77 C345.03,566.19 324.07,556.20 273.97,537.81 Z" fill="#7378ed" fill-opacity="0.85" stroke="#fff" stroke-opacity="0.25" stroke-width="0.3"/>
<path d="M369.17,537.73 A59.1,59.1 0 0 1 372.88,543.43 C343.86,557.33 322.12,565.99 264.18,586.77 A59.1,59.1 0 0 1 262.95,580.04 C321.87,564.65 343.11,556.19 369.17,537.73 Z" fill="#f081ca" fill-opacity="0.85" stroke="#fff" stroke-opacity="0.25" stroke-width="0.3"/>
<path d="M278.38,532.49 A59.1,59.1 0 0 1 283.37,527.73 C325.95,554.19 345.42,563.30 380.70,573.32 A59.1,59.1 0 0 1 380.24,580.14 C345.33,564.67 324.96,555.14 278.38,532.49 Z" fill="#7378ed" fill-opacity="0.85" stroke="#fff" stroke-opacity="0.25" stroke-width="0.3"/>
<path d="M323.15,513.72 A59.1,59.1 0 0 1 329.83,514.28 C335.25,551.50 340.67,572.67 356.95,620.16 A59.1,59.1 0 0 1 351.24,623.93 C339.53,573.43 333.91,551.38 323.15,513.72 Z" fill="#00d3df" fill-opacity="0.85" stroke="#fff" stroke-opacity="0.25" stroke-width="0.3"/>
<path d="M263.31,563.05 A59.1,59.1 0 0 1 264.85,556.31 C322.25,559.90 341.85,571.66 362.86,615.12 A59.1,59.1 0 0 1 357.69,619.60 C340.82,572.56 321.94,561.25 263.31,563.05 Z" fill="#7378ed" fill-opacity="0.85" stroke="#fff" stroke-opacity="0.25" stroke-width="0.3"/>
<path d="M284.01,527.20 A59.1,59.1 0 0 1 290.28,522.68 C327.34,553.18 331.86,574.89 312.88,631.25 A59.1,59.1 0 0 1 306.18,629.85 C330.52,574.61 326.08,554.08 284.01,527.20 Z" fill="#eb50d6" fill-opacity="0.85" stroke="#fff" stroke-opacity="0.25" stroke-width="0.3"/>
<path d="M344.69,518.40 A59.1,59.1 0 0 1 350.49,521.24 C339.38,552.89 330.34,574.56 305.29,629.60 A59.1,59.1 0 0 1 298.83,627.34 C329.05,574.11 338.22,552.32 344.69,518.40 Z" fill="#8da7bc" fill-opacity="0.85" stroke="#fff" stroke-opacity="0.25" stroke-width="0.3"/>
<path d="M309.82,514.89 A59.1,59.1 0 0 1 316.45,513.92 C332.57,551.42 328.87,574.03 297.97,626.97 A59.1,59.1 0 0 1 291.87,623.88 C327.65,573.42 331.24,551.62 309.82,514.89 Z" fill="#00d3df" fill-opacity="0.85" stroke="#fff" stroke-opacity="0.25" stroke-width="0.3"/>
<path d="M372.88,543.43 A59.1,59.1 0 0 1 375.92,549.52 C344.46,558.54 322.58,567.48 266.50,594.18 A59.1,59.1 0 0 1 264.40,587.67 C322.16,566.17 343.86,557.33 372.88,543.43 Z" fill="#f081ca" fill-opacity="0.85" stroke="#fff" stroke-opacity="0.25" stroke-width="0.3"/>
<path d="M303.34,516.59 A59.1,59.1 0 0 1 309.82,514.89 C331.24,551.62 327.49,573.32 291.07,623.41 A59.1,59.1 0 0 1 285.43,619.54 C326.37,572.55 329.95,551.96 303.34,516.59 Z" fill="#00d3df" fill-opacity="0.85" stroke="#fff" stroke-opacity="0.25" stroke-width="0.3"/>
<path d="M355.95,524.71 A59.1,59.1 0 0 1 360.99,528.74 C341.48,554.39 336.48,574.66 336.02,630.11 A59.1,59.1 0 0 1 329.30,631.40 C335.14,574.92 340.47,553.58 355.95,524.71 Z" fill="#8da7bc" fill-opacity="0.85" stroke="#fff" stroke-opacity="0.25" stroke-width="0.3"/>
<path d="M350.49,521.24 A59.1,59.1 0 0 1 355.95,524.71 C340.47,553.58 333.40,575.02 320.62,631.89 A59.1,59.1 0 0 1 313.80,631.38 C332.04,574.92 339.38,552.89 350.49,521.24 Z" fill="#8da7bc" fill-opacity="0.85" stroke="#fff" stroke-opacity="0.25" stroke-width="0.3"/>
<path d="M378.24,555.92 A59.1,59.1 0 0 1 379.80,562.54 C345.24,561.15 326.22,572.43 284.70,618.96 A59.1,59.1 0 0 1 279.61,614.39 C325.20,571.52 344.93,559.82 378.24,555.92 Z" fill="#f081ca" fill-opacity="0.85" stroke="#fff" stroke-opacity="0.25" stroke-width="0.3"/>
<path d="M297.09,519.02 A59.1,59.1 0 0 1 303.34,516.59 C329.95,551.96 325.07,571.38 278.96,613.72 A59.1,59.1 0 0 1 274.52,608.52 C324.18,570.34 328.70,552.44 297.09,519.02 Z" fill="#00d3df" fill-opacity="0.85" stroke="#fff" stroke-opacity="0.25" stroke-width="0.3"/>
<path d="M316.45,513.92 A59.1,59.1 0 0 1 323.15,513.72 C333.91,551.38 334.96,574.94 328.38,631.51 A59.1,59.1 0 0 1 321.55,631.90 C333.59,575.02 332.57,551.42 316.45,513.92 Z" fill="#00d3df" fill-opacity="0.85" stroke="#fff" stroke-opacity="0.25" stroke-width="0.3"/>
<path d="M264.85,556.31 A59.1,59.1 0 0 1 267.16,549.80 C322.71,558.60 343.77,569.23 372.44,602.93 A59.1,59.1 0 0 1 368.62,608.60 C343.00,570.36 322.25,559.90 264.85,556.31 Z" fill="#7378ed" fill-opacity="0.85" stroke="#fff" stroke-opacity="0.25" stroke-width="0.3"/>
<path d="M270.21,543.61 A59.1,59.1 0 0 1 273.97,537.81 C324.07,556.20 344.99,566.37 378.53,588.67 A59.1,59.1 0 0 1 376.31,595.14 C344.54,567.67 323.32,557.36 270.21,543.61 Z" fill="#7378ed" fill-opacity="0.85" stroke="#fff" stroke-opacity="0.25" stroke-width="0.3"/>
<path d="M375.92,549.52 A59.1,59.1 0 0 1 378.24,555.92 C344.93,559.82 323.24,568.89 269.79,601.23 A59.1,59.1 0 0 1 266.85,595.05 C322.65,567.65 344.46,558.54 375.92,549.52 Z" fill="#f081ca" fill-opacity="0.85" stroke="#fff" stroke-opacity="0.25" stroke-width="0.3"/>
<path d="M364.82,532.49 A59.1,59.1 0 0 1 369.17,537.73 C343.11,556.19 321.85,564.46 262.84,579.12 A59.1,59.1 0 0 1 262.50,572.28 C321.78,563.10 342.24,555.14 364.82,532.49 Z" fill="#f081ca" fill-opacity="0.85" stroke="#fff" stroke-opacity="0.25" stroke-width="0.3"/>
<path d="M329.83,514.28 A59.1,59.1 0 0 1 336.40,515.58 C336.56,551.76 342.89,570.51 368.05,609.34 A59.1,59.1 0 0 1 363.52,614.46 C341.98,571.53 335.25,551.50 329.83,514.28 Z" fill="#00d3df" fill-opacity="0.85" stroke="#fff" stroke-opacity="0.25" stroke-width="0.3"/>
<path d="M267.16,549.80 A59.1,59.1 0 0 1 270.21,543.61 C323.32,557.36 344.47,567.84 375.96,596.00 A59.1,59.1 0 0 1 372.91,602.13 C343.86,569.07 322.71,558.60 267.16,549.80 Z" fill="#7378ed" fill-opacity="0.85" stroke="#fff" stroke-opacity="0.25" stroke-width="0.3"/>
<path d="M255.52,561.74 A67.0,67.0 0 0 1 278.27,521.70 L282.40,526.58 A60.6,60.6 0 0 0 261.83,562.80 Z" fill="#e8060c"/>
<path d="M278.98,521.10 A67.0,67.0 0 0 1 286.10,515.98 L289.49,521.41 A60.6,60.6 0 0 0 283.05,526.04 Z" fill="#e8060c"/>
<path d="M287.09,515.37 A67.0,67.0 0 0 1 338.38,507.93 L336.77,514.13 A60.6,60.6 0 0 0 290.39,520.86 Z" fill="#e8060c"/>
<path d="M339.50,508.24 A67.0,67.0 0 0 1 347.02,510.81 L344.60,516.73 A60.6,60.6 0 0 0 337.79,514.40 Z" fill="#e8060c"/>
<path d="M347.78,511.13 A67.0,67.0 0 0 1 366.26,522.85 L361.99,527.62 A60.6,60.6 0 0 0 345.28,517.02 Z" fill="#e8060c"/>
<path d="M366.86,523.40 A67.0,67.0 0 0 1 370.04,526.51 L365.41,530.93 A60.6,60.6 0 0 0 362.54,528.12 Z" fill="#e8060c"/>
<path d="M366.93,524.69 A66.1,66.1 0 0 1 368.75,526.47 L365.46,529.69 A61.5,61.5 0 0 0 363.78,528.04 Z" fill="#c00008"/>
<path d="M370.60,527.11 A67.0,67.0 0 0 1 387.58,561.17 L381.28,562.28 A60.6,60.6 0 0 0 365.92,531.47 Z" fill="#e8060c"/>
<path d="M388.60,573.38 A67.0,67.0 0 0 1 254.60,572.22 L261.00,572.27 A60.6,60.6 0 0 0 382.20,573.33 Z" fill="#22cc22"/>
<path d="M388.19,573.96 A66.6,66.6 0 0 1 387.75,580.50 L383.18,579.97 A62.0,62.0 0 0 0 383.59,573.88 Z" fill="#0e9a0e"/>
<path d="M387.46,582.69 A66.6,66.6 0 0 1 386.17,589.11 L381.71,587.98 A62.0,62.0 0 0 0 382.91,582.00 Z" fill="#0e9a0e"/>
<path d="M385.60,591.24 A66.6,66.6 0 0 1 383.47,597.44 L379.20,595.74 A62.0,62.0 0 0 0 381.18,589.97 Z" fill="#0e9a0e"/>
<path d="M382.62,599.48 A66.6,66.6 0 0 1 379.71,605.34 L375.69,603.09 A62.0,62.0 0 0 0 378.41,597.63 Z" fill="#0e9a0e"/>
<path d="M378.60,607.25 A66.6,66.6 0 0 1 374.94,612.68 L371.25,609.93 A62.0,62.0 0 0 0 374.66,604.87 Z" fill="#0e9a0e"/>
<path d="M373.59,614.43 A66.6,66.6 0 0 1 369.24,619.34 L365.95,616.12 A62.0,62.0 0 0 0 370.00,611.55 Z" fill="#0e9a0e"/>
<path d="M367.68,620.89 A66.6,66.6 0 0 1 362.73,625.18 L359.89,621.56 A62.0,62.0 0 0 0 364.49,617.57 Z" fill="#0e9a0e"/>
<path d="M360.97,626.52 A66.6,66.6 0 0 1 355.50,630.13 L353.16,626.17 A62.0,62.0 0 0 0 358.25,622.81 Z" fill="#0e9a0e"/>
<path d="M353.58,631.22 A66.6,66.6 0 0 1 347.69,634.08 L345.89,629.84 A62.0,62.0 0 0 0 351.37,627.18 Z" fill="#0e9a0e"/>
<path d="M345.64,634.91 A66.6,66.6 0 0 1 339.43,636.97 L338.19,632.54 A62.0,62.0 0 0 0 343.98,630.62 Z" fill="#0e9a0e"/>
<path d="M337.29,637.53 A66.6,66.6 0 0 1 330.85,638.75 L330.22,634.20 A62.0,62.0 0 0 0 336.21,633.06 Z" fill="#0e9a0e"/>
<path d="M328.66,639.02 A66.6,66.6 0 0 1 322.12,639.40 L322.09,634.80 A62.0,62.0 0 0 0 328.17,634.45 Z" fill="#0e9a0e"/>
<path d="M319.91,639.38 A66.6,66.6 0 0 1 313.38,638.89 L313.95,634.33 A62.0,62.0 0 0 0 320.03,634.78 Z" fill="#0e9a0e"/>
<path d="M311.20,638.58 A66.6,66.6 0 0 1 304.78,637.24 L305.95,632.79 A62.0,62.0 0 0 0 311.91,634.04 Z" fill="#0e9a0e"/>
<path d="M302.66,636.65 A66.6,66.6 0 0 1 296.48,634.48 L298.21,630.22 A62.0,62.0 0 0 0 303.97,632.24 Z" fill="#0e9a0e"/>
<path d="M294.44,633.61 A66.6,66.6 0 0 1 288.60,630.65 L290.88,626.66 A62.0,62.0 0 0 0 296.32,629.41 Z" fill="#0e9a0e"/>
<path d="M286.70,629.53 A66.6,66.6 0 0 1 281.30,625.82 L284.08,622.16 A62.0,62.0 0 0 0 289.11,625.61 Z" fill="#0e9a0e"/>
<path d="M279.56,624.46 A66.6,66.6 0 0 1 274.69,620.08 L277.93,616.81 A62.0,62.0 0 0 0 282.47,620.89 Z" fill="#0e9a0e"/>
<path d="M273.15,618.50 A66.6,66.6 0 0 1 268.90,613.52 L272.54,610.70 A62.0,62.0 0 0 0 276.50,615.34 Z" fill="#0e9a0e"/>
<path d="M267.57,611.75 A66.6,66.6 0 0 1 264.01,606.25 L267.99,603.94 A62.0,62.0 0 0 0 271.31,609.06 Z" fill="#0e9a0e"/>
<path d="M262.93,604.32 A66.6,66.6 0 0 1 260.12,598.41 L264.37,596.64 A62.0,62.0 0 0 0 266.98,602.15 Z" fill="#0e9a0e"/>
<path d="M259.30,596.36 A66.6,66.6 0 0 1 257.29,590.12 L261.73,588.93 A62.0,62.0 0 0 0 263.61,594.73 Z" fill="#0e9a0e"/>
<path d="M256.75,587.98 A66.6,66.6 0 0 1 255.58,581.54 L260.14,580.93 A62.0,62.0 0 0 0 261.23,586.93 Z" fill="#0e9a0e"/>
<path d="M255.32,579.34 A66.6,66.6 0 0 1 255.00,572.80 L259.60,572.80 A62.0,62.0 0 0 0 259.90,578.89 Z" fill="#0e9a0e"/>
<text transform="translate(262.56 539.26) rotate(29.60)" font-size="4.1" text-anchor="end" dy="1.4" fill="#444" stroke="#444" stroke-width="0.04">TFRC</text>
<text transform="translate(281.93 517.69) rotate(54.25)" font-size="4.1" text-anchor="end" dy="1.4" fill="#444" stroke="#444" stroke-width="0.04">CD53</text>
<text transform="translate(311.86 505.60) rotate(81.75)" font-size="4.1" text-anchor="end" dy="1.4" fill="#444" stroke="#444" stroke-width="0.04">L1CAM</text>
<text transform="translate(343.59 508.56) rotate(288.90)" font-size="4.1" dy="1.4" fill="#444" stroke="#444" stroke-width="0.04">ESAM</text>
<text transform="translate(357.98 515.47) rotate(302.40)" font-size="4.1" dy="1.4" fill="#444" stroke="#444" stroke-width="0.04">SORL1</text>
<text transform="translate(369.11 524.29) rotate(314.40)" font-size="4.1" dy="1.4" fill="#444" stroke="#444" stroke-width="0.04">NOTCH1</text>
<text transform="translate(382.37 542.50) rotate(333.50)" font-size="4.1" dy="1.4" fill="#444" stroke="#444" stroke-width="0.04">ITGA4</text>
<text transform="translate(389.35 577.32) rotate(3.82)" font-size="4.1" dy="1.4" fill="#444" stroke="#444" stroke-width="0.04">COL4A1</text>
<text transform="translate(388.17 586.17) rotate(11.36)" font-size="4.1" dy="1.4" fill="#444" stroke="#444" stroke-width="0.04">SEMA4D</text>
<text transform="translate(385.84 594.79) rotate(18.89)" font-size="4.1" dy="1.4" fill="#444" stroke="#444" stroke-width="0.04">LGALS9</text>
<text transform="translate(382.40 603.02) rotate(26.43)" font-size="4.1" dy="1.4" fill="#444" stroke="#444" stroke-width="0.04">LAMC1</text>
<text transform="translate(377.91 610.74) rotate(33.97)" font-size="4.1" dy="1.4" fill="#444" stroke="#444" stroke-width="0.04">DLL4</text>
<text transform="translate(372.45 617.80) rotate(41.51)" font-size="4.1" dy="1.4" fill="#444" stroke="#444" stroke-width="0.04">SERPINE1</text>
<text transform="translate(366.11 624.08) rotate(49.04)" font-size="4.1" dy="1.4" fill="#444" stroke="#444" stroke-width="0.04">FGF2</text>
<text transform="translate(359.00 629.47) rotate(56.58)" font-size="4.1" dy="1.4" fill="#444" stroke="#444" stroke-width="0.04">ADAM17</text>
<text transform="translate(351.24 633.89) rotate(64.12)" font-size="4.1" dy="1.4" fill="#444" stroke="#444" stroke-width="0.04">TNC</text>
<text transform="translate(342.97 637.25) rotate(71.66)" font-size="4.1" dy="1.4" fill="#444" stroke="#444" stroke-width="0.04">IGF2</text>
<text transform="translate(334.33 639.50) rotate(79.19)" font-size="4.1" dy="1.4" fill="#444" stroke="#444" stroke-width="0.04">ANGPTL4</text>
<text transform="translate(325.47 640.59) rotate(86.73)" font-size="4.1" dy="1.4" fill="#444" stroke="#444" stroke-width="0.04">NAMPT</text>
<text transform="translate(316.55 640.51) rotate(-85.73)" font-size="4.1" text-anchor="end" dy="1.4" fill="#444" stroke="#444" stroke-width="0.04">WNT5A</text>
<text transform="translate(307.71 639.26) rotate(-78.19)" font-size="4.1" text-anchor="end" dy="1.4" fill="#444" stroke="#444" stroke-width="0.04">ICAM1</text>
<text transform="translate(299.11 636.87) rotate(-70.66)" font-size="4.1" text-anchor="end" dy="1.4" fill="#444" stroke="#444" stroke-width="0.04">SPP1</text>
<text transform="translate(290.90 633.36) rotate(-63.12)" font-size="4.1" text-anchor="end" dy="1.4" fill="#444" stroke="#444" stroke-width="0.04">CALM2</text>
<text transform="translate(283.22 628.81) rotate(-55.58)" font-size="4.1" text-anchor="end" dy="1.4" fill="#444" stroke="#444" stroke-width="0.04">EFNB2</text>
<text transform="translate(276.20 623.29) rotate(-48.04)" font-size="4.1" text-anchor="end" dy="1.4" fill="#444" stroke="#444" stroke-width="0.04">HMGB1</text>
<text transform="translate(269.97 616.90) rotate(-40.51)" font-size="4.1" text-anchor="end" dy="1.4" fill="#444" stroke="#444" stroke-width="0.04">PROS1</text>
<text transform="translate(264.63 609.75) rotate(-32.97)" font-size="4.1" text-anchor="end" dy="1.4" fill="#444" stroke="#444" stroke-width="0.04">ADAM10</text>
<text transform="translate(260.28 601.96) rotate(-25.43)" font-size="4.1" text-anchor="end" dy="1.4" fill="#444" stroke="#444" stroke-width="0.04">AREG</text>
<text transform="translate(256.98 593.66) rotate(-17.89)" font-size="4.1" text-anchor="end" dy="1.4" fill="#444" stroke="#444" stroke-width="0.04">CSF1</text>
<text transform="translate(254.81 585.01) rotate(-10.36)" font-size="4.1" text-anchor="end" dy="1.4" fill="#444" stroke="#444" stroke-width="0.04">CALM1</text>
<text transform="translate(253.78 576.14) rotate(-2.82)" font-size="4.1" text-anchor="end" dy="1.4" fill="#444" stroke="#444" stroke-width="0.04">CXCL12</text>
<text x="429.4" y="264.70" font-size="5.8" fill="#2a2a2a" stroke="#2a2a2a" stroke-width="0.14">Function</text>
<line x1="429.3" y1="272.60" x2="436.5" y2="272.60" stroke="#40b4d8" stroke-width="1.2"/>
<text x="440.2" y="274.65" font-size="5.8" fill="#2a2a2a" stroke="#2a2a2a" stroke-width="0.14">adhesion</text>
<line x1="429.3" y1="282.32" x2="436.5" y2="282.32" stroke="#d83838" stroke-width="1.2"/>
<text x="440.2" y="284.37" font-size="5.8" fill="#2a2a2a" stroke="#2a2a2a" stroke-width="0.14">adhesion/GPCR</text>
<line x1="429.3" y1="292.04" x2="436.5" y2="292.04" stroke="#2a8a2a" stroke-width="1.2"/>
<text x="440.2" y="294.09" font-size="5.8" fill="#2a2a2a" stroke="#2a2a2a" stroke-width="0.14">adhesion/T-Cell activator</text>
<line x1="429.3" y1="301.76" x2="436.5" y2="301.76" stroke="#9264c4" stroke-width="1.2"/>
<text x="440.2" y="303.81" font-size="5.8" fill="#2a2a2a" stroke="#2a2a2a" stroke-width="0.14">Apoptosis</text>
<line x1="429.3" y1="311.48" x2="436.5" y2="311.48" stroke="#eaa048" stroke-width="1.2"/>
<text x="440.2" y="313.53" font-size="5.8" fill="#2a2a2a" stroke="#2a2a2a" stroke-width="0.14">cell communication</text>
<line x1="429.3" y1="321.20" x2="436.5" y2="321.20" stroke="#f0cc48" stroke-width="1.2"/>
<text x="440.2" y="323.25" font-size="5.8" fill="#2a2a2a" stroke="#2a2a2a" stroke-width="0.14">cholesterol homeostasis</text>
<line x1="429.3" y1="330.92" x2="436.5" y2="330.92" stroke="#2434a8" stroke-width="1.2"/>
<text x="440.2" y="332.97" font-size="5.8" fill="#2a2a2a" stroke="#2a2a2a" stroke-width="0.14">GPCR</text>
<line x1="429.3" y1="340.64" x2="436.5" y2="340.64" stroke="#c844c0" stroke-width="1.2"/>
<text x="440.2" y="342.69" font-size="5.8" fill="#2a2a2a" stroke="#2a2a2a" stroke-width="0.14">ILs stimulation</text>
<line x1="429.3" y1="350.36" x2="436.5" y2="350.36" stroke="#48c868" stroke-width="1.2"/>
<text x="440.2" y="352.41" font-size="5.8" fill="#2a2a2a" stroke="#2a2a2a" stroke-width="0.14">immune checkpoint</text>
<line x1="429.3" y1="360.08" x2="436.5" y2="360.08" stroke="#a8a048" stroke-width="1.2"/>
<text x="440.2" y="362.13" font-size="5.8" fill="#2a2a2a" stroke="#2a2a2a" stroke-width="0.14">innate immunity</text>
<line x1="429.3" y1="369.80" x2="436.5" y2="369.80" stroke="#a0802c" stroke-width="1.2"/>
<text x="440.2" y="371.85" font-size="5.8" fill="#2a2a2a" stroke="#2a2a2a" stroke-width="0.14">Matrix Remodelling</text>
<line x1="429.3" y1="379.52" x2="436.5" y2="379.52" stroke="#38c8c8" stroke-width="1.2"/>
<text x="440.2" y="381.57" font-size="5.8" fill="#2a2a2a" stroke="#2a2a2a" stroke-width="0.14">membrane transport</text>
<line x1="429.3" y1="389.24" x2="436.5" y2="389.24" stroke="#e07878" stroke-width="1.2"/>
<text x="440.2" y="391.29" font-size="5.8" fill="#2a2a2a" stroke="#2a2a2a" stroke-width="0.14">proteasome</text>
<line x1="429.3" y1="398.96" x2="436.5" y2="398.96" stroke="#2a6a8a" stroke-width="1.2"/>
<text x="440.2" y="401.01" font-size="5.8" fill="#2a2a2a" stroke="#2a2a2a" stroke-width="0.14">RTK</text>
<line x1="429.3" y1="408.68" x2="436.5" y2="408.68" stroke="#68d4e4" stroke-width="1.2"/>
<text x="440.2" y="410.73" font-size="5.8" fill="#2a2a2a" stroke="#2a2a2a" stroke-width="0.14">RTK/adhesion</text>
<line x1="429.3" y1="418.40" x2="436.5" y2="418.40" stroke="#e064e0" stroke-width="1.2"/>
<text x="440.2" y="420.45" font-size="5.8" fill="#2a2a2a" stroke="#2a2a2a" stroke-width="0.14">T-Cell activator</text>
<text x="429.4" y="436.00" font-size="5.8" fill="#2a2a2a" stroke="#2a2a2a" stroke-width="0.14">genes</text>
<circle cx="432.7" cy="443.40" r="1.1" fill="#d01010"/>
<text x="438.6" y="445.45" font-size="5.8" fill="#2a2a2a" stroke="#2a2a2a" stroke-width="0.14">Receptors</text>
<circle cx="477.0" cy="443.40" r="1.1" fill="#10b010"/>
<text x="482.9" y="445.45" font-size="5.8" fill="#2a2a2a" stroke="#2a2a2a" stroke-width="0.14">Ligands</text>
<text x="429.4" y="484.10" font-size="5.8" fill="#2a2a2a" stroke="#2a2a2a" stroke-width="0.14">Function</text>
<line x1="429.3" y1="492.00" x2="436.5" y2="492.00" stroke="#40b4d8" stroke-width="1.2"/>
<text x="440.2" y="494.05" font-size="5.8" fill="#2a2a2a" stroke="#2a2a2a" stroke-width="0.14">adhesion</text>
<line x1="429.3" y1="501.70" x2="436.5" y2="501.70" stroke="#d83838" stroke-width="1.2"/>
<text x="440.2" y="503.75" font-size="5.8" fill="#2a2a2a" stroke="#2a2a2a" stroke-width="0.14">adhesion/GPCR</text>
<line x1="429.3" y1="511.40" x2="436.5" y2="511.40" stroke="#2a8a2a" stroke-width="1.2"/>
<text x="440.2" y="513.45" font-size="5.8" fill="#2a2a2a" stroke="#2a2a2a" stroke-width="0.14">adhesion/T-Cell activator</text>
<line x1="429.3" y1="521.10" x2="436.5" y2="521.10" stroke="#9264c4" stroke-width="1.2"/>
<text x="440.2" y="523.15" font-size="5.8" fill="#2a2a2a" stroke="#2a2a2a" stroke-width="0.14">Apoptosis</text>
<line x1="429.3" y1="530.80" x2="436.5" y2="530.80" stroke="#eaa048" stroke-width="1.2"/>
<text x="440.2" y="532.85" font-size="5.8" fill="#2a2a2a" stroke="#2a2a2a" stroke-width="0.14">cell communication</text>
<line x1="429.3" y1="540.50" x2="436.5" y2="540.50" stroke="#f0cc48" stroke-width="1.2"/>
<text x="440.2" y="542.55" font-size="5.8" fill="#2a2a2a" stroke="#2a2a2a" stroke-width="0.14">cholesterol homeostasis</text>
<line x1="429.3" y1="550.20" x2="436.5" y2="550.20" stroke="#2434a8" stroke-width="1.2"/>
<text x="440.2" y="552.25" font-size="5.8" fill="#2a2a2a" stroke="#2a2a2a" stroke-width="0.14">GPCR</text>
<line x1="429.3" y1="559.90" x2="436.5" y2="559.90" stroke="#c844c0" stroke-width="1.2"/>
<text x="440.2" y="561.95" font-size="5.8" fill="#2a2a2a" stroke="#2a2a2a" stroke-width="0.14">ILs stimulation</text>
<line x1="429.3" y1="569.60" x2="436.5" y2="569.60" stroke="#48c868" stroke-width="1.2"/>
<text x="440.2" y="571.65" font-size="5.8" fill="#2a2a2a" stroke="#2a2a2a" stroke-width="0.14">immune checkpoint</text>
<line x1="429.3" y1="579.30" x2="436.5" y2="579.30" stroke="#a8a048" stroke-width="1.2"/>
<text x="440.2" y="581.35" font-size="5.8" fill="#2a2a2a" stroke="#2a2a2a" stroke-width="0.14">innate immunity</text>
<line x1="429.3" y1="589.00" x2="436.5" y2="589.00" stroke="#a0802c" stroke-width="1.2"/>
<text x="440.2" y="591.05" font-size="5.8" fill="#2a2a2a" stroke="#2a2a2a" stroke-width="0.14">Matrix Remodelling</text>
<line x1="429.3" y1="598.70" x2="436.5" y2="598.70" stroke="#38c8c8" stroke-width="1.2"/>
<text x="440.2" y="600.75" font-size="5.8" fill="#2a2a2a" stroke="#2a2a2a" stroke-width="0.14">membrane transport</text>
<line x1="429.3" y1="608.40" x2="436.5" y2="608.40" stroke="#e07878" stroke-width="1.2"/>
<text x="440.2" y="610.45" font-size="5.8" fill="#2a2a2a" stroke="#2a2a2a" stroke-width="0.14">proteasome</text>
<line x1="429.3" y1="618.10" x2="436.5" y2="618.10" stroke="#2a6a8a" stroke-width="1.2"/>
<text x="440.2" y="620.15" font-size="5.8" fill="#2a2a2a" stroke="#2a2a2a" stroke-width="0.14">RTK</text>
<line x1="429.3" y1="627.80" x2="436.5" y2="627.80" stroke="#68d4e4" stroke-width="1.2"/>
<text x="440.2" y="629.85" font-size="5.8" fill="#2a2a2a" stroke="#2a2a2a" stroke-width="0.14">RTK/adhesion</text>
<line x1="429.3" y1="637.50" x2="436.5" y2="637.50" stroke="#e064e0" stroke-width="1.2"/>
<text x="440.2" y="639.55" font-size="5.8" fill="#2a2a2a" stroke="#2a2a2a" stroke-width="0.14">T-Cell activator</text>
<text x="429.4" y="654.60" font-size="5.8" fill="#2a2a2a" stroke="#2a2a2a" stroke-width="0.14">genes</text>
<circle cx="432.7" cy="662.60" r="1.1" fill="#d01010"/>
<text x="438.6" y="664.65" font-size="5.8" fill="#2a2a2a" stroke="#2a2a2a" stroke-width="0.14">Receptors</text>
<circle cx="477.0" cy="662.60" r="1.1" fill="#10b010"/>
<text x="482.9" y="664.65" font-size="5.8" fill="#2a2a2a" stroke="#2a2a2a" stroke-width="0.14">Ligands</text>
</svg><div id="bd"></div></div></body></html>
